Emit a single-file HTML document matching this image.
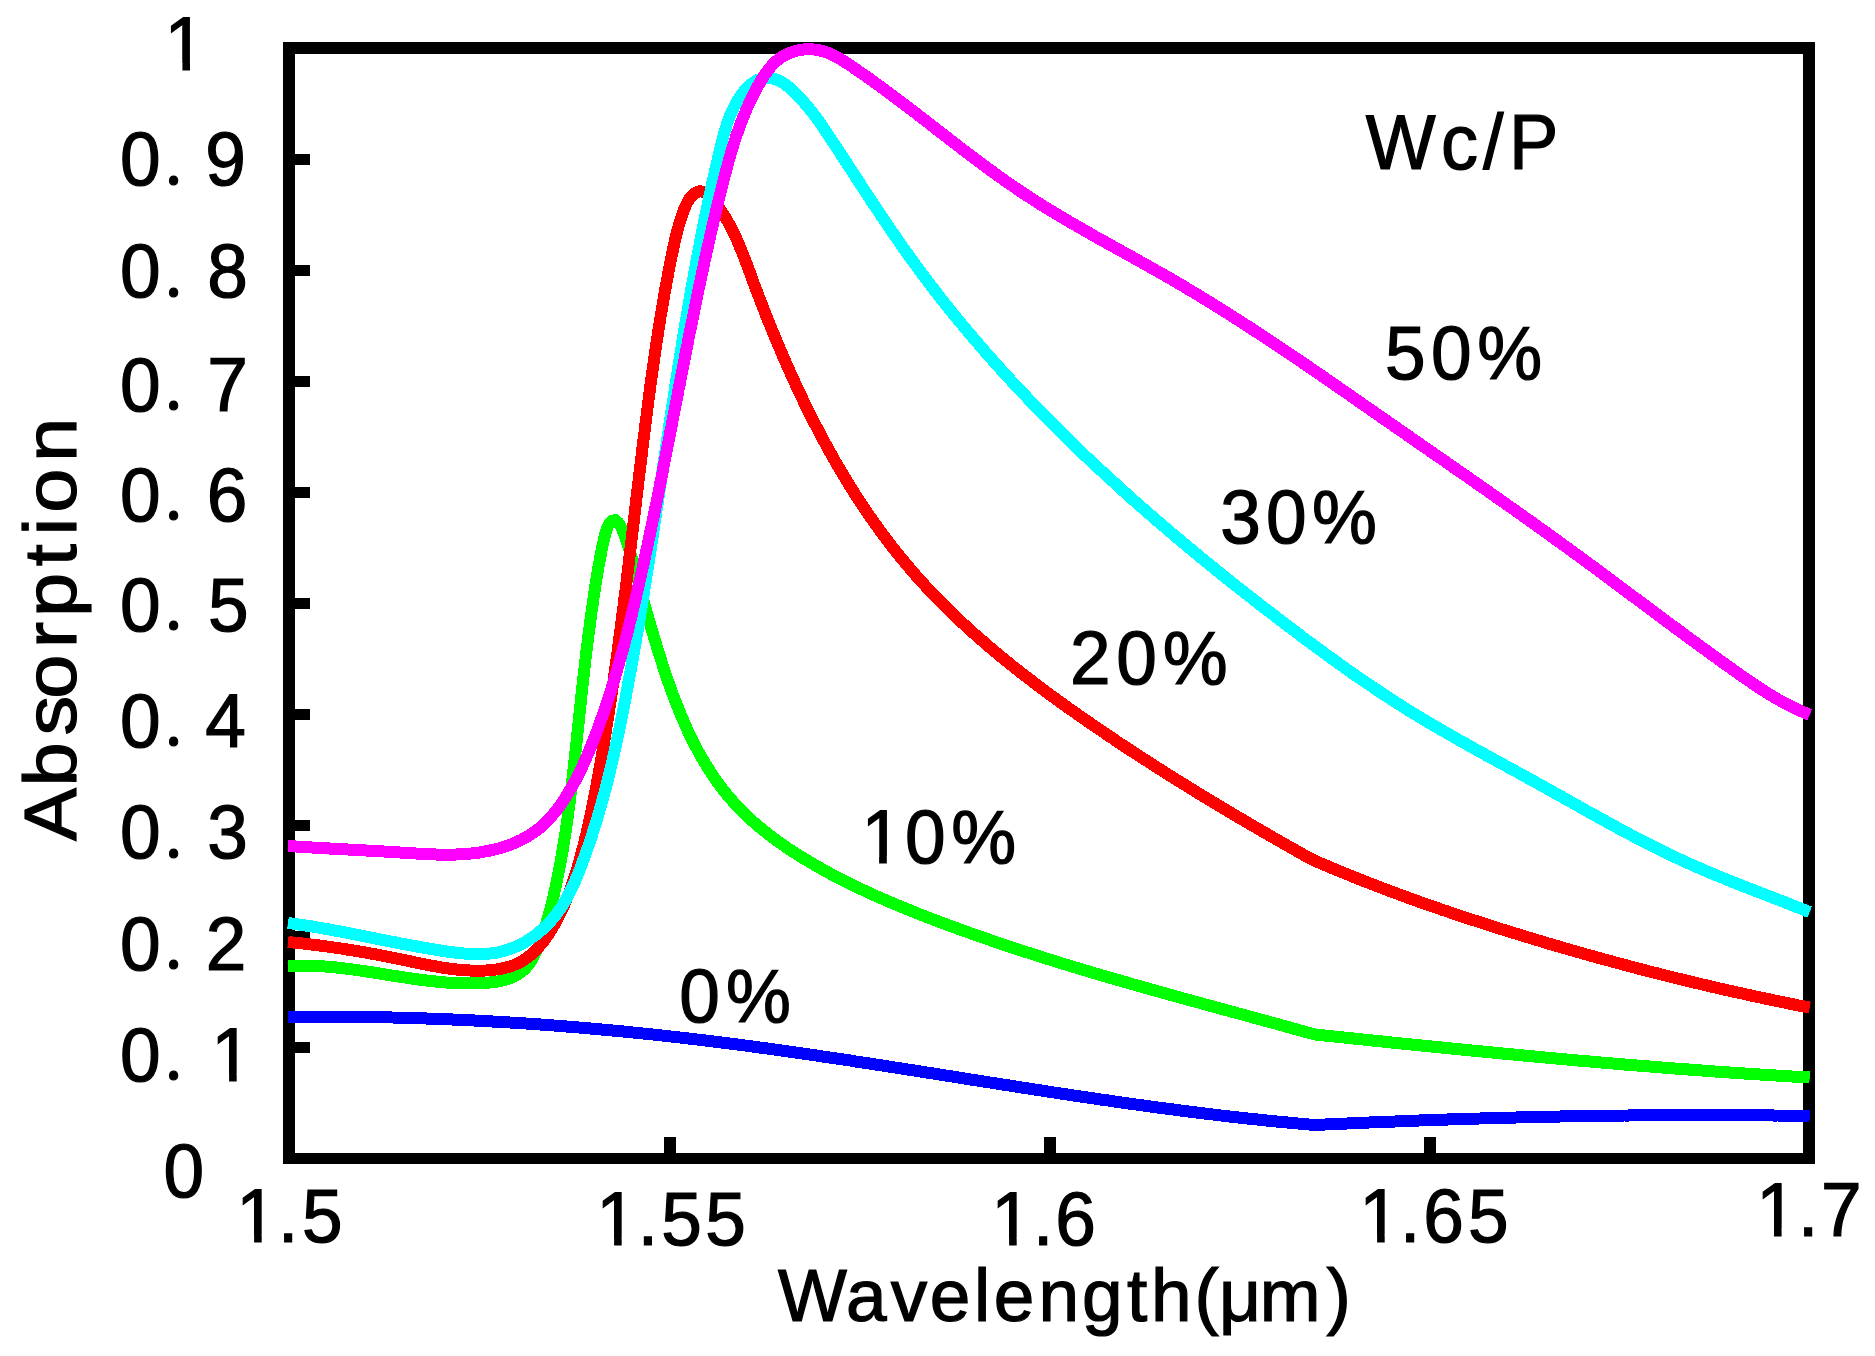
<!DOCTYPE html>
<html lang="en"><head><meta charset="utf-8"><title>Absorption vs Wavelength</title>
<style>
html,body{margin:0;padding:0;background:#fff}
body{width:1875px;height:1356px;overflow:hidden}
svg{display:block}
text{font-family:"Liberation Sans",sans-serif;fill:#000}
.c{fill:none;stroke-width:12;stroke-linecap:butt;stroke-linejoin:miter;stroke-miterlimit:4}
</style></head><body>
<svg width="1875" height="1356" viewBox="0 0 1875 1356">
<rect x="0" y="0" width="1875" height="1356" fill="#fff"/>
<g shape-rendering="crispEdges" fill="#000">
<path fill-rule="evenodd" d="M283 42H1815V1164H283ZM295 54V1153H1803V54Z"/>
<rect x="295" y="1042.0" width="15" height="11"/>
<rect x="295" y="931.0" width="15" height="11"/>
<rect x="295" y="820.0" width="15" height="11"/>
<rect x="295" y="709.0" width="15" height="11"/>
<rect x="295" y="598.0" width="15" height="11"/>
<rect x="295" y="487.0" width="15" height="11"/>
<rect x="295" y="376.0" width="15" height="11"/>
<rect x="295" y="265.0" width="15" height="11"/>
<rect x="295" y="154.0" width="15" height="11"/>
<rect x="664.0" y="1137" width="12" height="16"/>
<rect x="1044.0" y="1137" width="12" height="16"/>
<rect x="1424.0" y="1137" width="12" height="16"/>
</g>
<g class="c">
<path stroke="#0000ff" shape-rendering="crispEdges" d="M288.0 1017.0L292.0 1017.0 296.0 1016.9 300.0 1016.9 304.0 1016.8 308.1 1016.8 312.1 1016.8 316.1 1016.8 320.1 1016.8 324.1 1016.8 328.1 1016.8 332.1 1016.8 336.1 1016.8 340.1 1016.8 344.2 1016.8 348.2 1016.8 352.2 1016.9 356.2 1016.9 360.2 1017.0 364.2 1017.0 368.2 1017.1 372.2 1017.1 376.2 1017.2 380.2 1017.3 384.2 1017.3 388.3 1017.4 392.3 1017.5 396.3 1017.6 400.3 1017.7 404.3 1017.8 408.3 1017.9 412.3 1018.0 416.3 1018.2 420.3 1018.3 424.3 1018.4 428.3 1018.6 432.3 1018.7 436.3 1018.9 440.3 1019.0 444.3 1019.2 448.3 1019.3 452.3 1019.5 456.4 1019.7 460.4 1019.9 464.4 1020.0 468.4 1020.2 472.4 1020.4 476.4 1020.6 480.4 1020.8 484.4 1021.0 488.4 1021.3 492.4 1021.5 496.4 1021.7 500.4 1021.9 504.4 1022.2 508.4 1022.4 512.4 1022.7 516.4 1022.9 520.4 1023.2 524.4 1023.4 528.4 1023.7 532.4 1024.0 536.3 1024.3 540.3 1024.5 544.3 1024.8 548.3 1025.1 552.3 1025.4 556.3 1025.7 560.3 1026.0 564.3 1026.3 568.3 1026.7 572.3 1027.0 576.3 1027.3 580.3 1027.6 584.3 1028.0 588.3 1028.3 592.3 1028.7 596.2 1029.0 600.2 1029.4 604.2 1029.7 608.2 1030.1 612.2 1030.5 616.2 1030.8 620.2 1031.2 624.2 1031.6 628.2 1032.0 632.1 1032.4 636.1 1032.8 640.1 1033.2 644.1 1033.6 648.1 1034.0 652.1 1034.4 656.1 1034.9 660.0 1035.3 664.0 1035.7 668.0 1036.2 672.0 1036.6 676.0 1037.1 679.9 1037.5 683.9 1038.0 687.9 1038.4 691.9 1038.9 695.9 1039.4 699.8 1039.8 703.8 1040.3 707.8 1040.8 711.8 1041.3 715.7 1041.8 719.7 1042.3 723.7 1042.8 727.7 1043.3 731.6 1043.8 735.6 1044.3 739.6 1044.8 743.6 1045.3 747.5 1045.9 751.5 1046.4 755.5 1046.9 759.5 1047.5 763.4 1048.0 767.4 1048.5 771.4 1049.1 775.3 1049.6 779.3 1050.2 783.3 1050.8 787.2 1051.3 791.2 1051.9 795.2 1052.4 799.1 1053.0 803.1 1053.6 807.1 1054.2 811.0 1054.7 815.0 1055.3 819.0 1055.9 822.9 1056.5 826.9 1057.1 830.9 1057.7 834.8 1058.3 838.8 1058.9 842.8 1059.4 846.7 1060.0 850.7 1060.6 854.6 1061.3 858.6 1061.9 862.6 1062.5 866.5 1063.1 870.5 1063.7 874.5 1064.3 878.4 1064.9 882.4 1065.5 886.3 1066.1 890.3 1066.8 894.3 1067.4 898.2 1068.0 902.2 1068.6 906.1 1069.2 910.1 1069.9 914.1 1070.5 918.0 1071.1 922.0 1071.7 925.9 1072.4 929.9 1073.0 933.9 1073.6 937.8 1074.2 941.8 1074.9 945.7 1075.5 949.7 1076.1 953.7 1076.7 957.6 1077.4 961.6 1078.0 965.5 1078.6 969.5 1079.3 973.5 1079.9 977.4 1080.5 981.4 1081.1 985.3 1081.8 989.3 1082.4 993.3 1083.0 997.2 1083.6 1001.2 1084.3 1005.1 1084.9 1009.1 1085.5 1013.1 1086.1 1017.0 1086.7 1021.0 1087.4 1024.9 1088.0 1028.9 1088.6 1032.9 1089.2 1036.8 1089.8 1040.8 1090.4 1044.7 1091.0 1048.7 1091.7 1052.7 1092.3 1056.6 1092.9 1060.6 1093.5 1064.6 1094.1 1068.5 1094.7 1072.5 1095.3 1076.4 1095.9 1080.4 1096.5 1084.4 1097.0 1088.3 1097.6 1092.3 1098.2 1096.3 1098.8 1100.2 1099.4 1104.2 1100.0 1108.2 1100.5 1112.1 1101.1 1116.1 1101.7 1120.1 1102.3 1124.0 1102.8 1128.0 1103.4 1132.0 1103.9 1135.9 1104.5 1139.9 1105.0 1143.9 1105.6 1147.8 1106.1 1151.8 1106.7 1155.8 1107.2 1159.7 1107.8 1163.7 1108.3 1167.7 1108.8 1171.7 1109.3 1175.6 1109.9 1179.6 1110.4 1183.6 1110.9 1187.5 1111.4 1191.5 1111.9 1195.5 1112.4 1199.5 1112.9 1203.4 1113.4 1207.4 1113.9 1211.4 1114.3 1215.4 1114.8 1219.4 1115.3 1223.3 1115.8 1227.3 1116.2 1231.3 1116.7 1235.3 1117.1 1239.3 1117.6 1243.2 1118.0 1247.2 1118.5 1251.2 1118.9 1255.2 1119.3 1259.2 1119.7 1263.1 1120.1 1267.1 1120.6 1271.1 1121.0 1275.1 1121.4 1279.1 1121.7 1283.1 1122.1 1287.1 1122.5 1291.1 1122.9 1295.0 1123.3 1299.0 1123.6 1303.0 1124.0 1307.0 1124.3 1311.0 1124.7 1315.0 1125.0 1319.0 1124.8 1323.0 1124.6 1327.1 1124.4 1331.1 1124.2 1335.1 1124.0 1339.1 1123.9 1343.1 1123.7 1347.1 1123.5 1351.2 1123.3 1355.2 1123.1 1359.2 1123.0 1363.2 1122.8 1367.2 1122.6 1371.3 1122.4 1375.3 1122.3 1379.3 1122.1 1383.3 1121.9 1387.3 1121.8 1391.4 1121.6 1395.4 1121.5 1399.4 1121.3 1403.4 1121.1 1407.4 1121.0 1411.5 1120.8 1415.5 1120.7 1419.5 1120.5 1423.5 1120.4 1427.5 1120.2 1431.5 1120.1 1435.6 1119.9 1439.6 1119.8 1443.6 1119.7 1447.6 1119.5 1451.7 1119.4 1455.7 1119.3 1459.7 1119.1 1463.7 1119.0 1467.7 1118.9 1471.8 1118.7 1475.8 1118.6 1479.8 1118.5 1483.8 1118.4 1487.8 1118.3 1491.9 1118.2 1495.9 1118.0 1499.9 1117.9 1503.9 1117.8 1507.9 1117.7 1512.0 1117.6 1516.0 1117.5 1520.0 1117.4 1524.0 1117.3 1528.0 1117.2 1532.1 1117.1 1536.1 1117.0 1540.1 1116.9 1544.1 1116.8 1548.2 1116.7 1552.2 1116.7 1556.2 1116.6 1560.2 1116.5 1564.2 1116.4 1568.3 1116.3 1572.3 1116.3 1576.3 1116.2 1580.3 1116.1 1584.3 1116.1 1588.4 1116.0 1592.4 1115.9 1596.4 1115.9 1600.4 1115.8 1604.5 1115.8 1608.5 1115.7 1612.5 1115.7 1616.5 1115.6 1620.5 1115.6 1624.6 1115.5 1628.6 1115.5 1632.6 1115.4 1636.6 1115.4 1640.7 1115.4 1644.7 1115.3 1648.7 1115.3 1652.7 1115.3 1656.7 1115.2 1660.8 1115.2 1664.8 1115.2 1668.8 1115.2 1672.8 1115.1 1676.9 1115.1 1680.9 1115.1 1684.9 1115.1 1688.9 1115.1 1692.9 1115.1 1697.0 1115.1 1701.0 1115.1 1705.0 1115.1 1709.0 1115.1 1713.1 1115.1 1717.1 1115.1 1721.1 1115.1 1725.1 1115.1 1729.1 1115.1 1733.2 1115.2 1737.2 1115.2 1741.2 1115.2 1745.2 1115.2 1749.3 1115.3 1753.3 1115.3 1757.3 1115.3 1761.3 1115.4 1765.4 1115.4 1769.4 1115.4 1773.4 1115.5 1777.4 1115.5 1781.4 1115.6 1785.5 1115.6 1789.5 1115.7 1793.5 1115.7 1797.5 1115.8 1801.6 1115.9 1805.6 1115.9 1809.6 1116.0"/>
<path stroke="#0000ff" stroke-width="8" d="M288.0 1017.0L292.0 1017.0 296.0 1016.9 300.0 1016.9 304.0 1016.8 308.1 1016.8 312.1 1016.8 316.1 1016.8 320.1 1016.8 324.1 1016.8 328.1 1016.8 332.1 1016.8 336.1 1016.8 340.1 1016.8 344.2 1016.8 348.2 1016.8 352.2 1016.9 356.2 1016.9 360.2 1017.0 364.2 1017.0 368.2 1017.1 372.2 1017.1 376.2 1017.2 380.2 1017.3 384.2 1017.3 388.3 1017.4 392.3 1017.5 396.3 1017.6 400.3 1017.7 404.3 1017.8 408.3 1017.9 412.3 1018.0 416.3 1018.2 420.3 1018.3 424.3 1018.4 428.3 1018.6 432.3 1018.7 436.3 1018.9 440.3 1019.0 444.3 1019.2 448.3 1019.3 452.3 1019.5 456.4 1019.7 460.4 1019.9 464.4 1020.0 468.4 1020.2 472.4 1020.4 476.4 1020.6 480.4 1020.8 484.4 1021.0 488.4 1021.3 492.4 1021.5 496.4 1021.7 500.4 1021.9 504.4 1022.2 508.4 1022.4 512.4 1022.7 516.4 1022.9 520.4 1023.2 524.4 1023.4 528.4 1023.7 532.4 1024.0 536.3 1024.3 540.3 1024.5 544.3 1024.8 548.3 1025.1 552.3 1025.4 556.3 1025.7 560.3 1026.0 564.3 1026.3 568.3 1026.7 572.3 1027.0 576.3 1027.3 580.3 1027.6 584.3 1028.0 588.3 1028.3 592.3 1028.7 596.2 1029.0 600.2 1029.4 604.2 1029.7 608.2 1030.1 612.2 1030.5 616.2 1030.8 620.2 1031.2 624.2 1031.6 628.2 1032.0 632.1 1032.4 636.1 1032.8 640.1 1033.2 644.1 1033.6 648.1 1034.0 652.1 1034.4 656.1 1034.9 660.0 1035.3 664.0 1035.7 668.0 1036.2 672.0 1036.6 676.0 1037.1 679.9 1037.5 683.9 1038.0 687.9 1038.4 691.9 1038.9 695.9 1039.4 699.8 1039.8 703.8 1040.3 707.8 1040.8 711.8 1041.3 715.7 1041.8 719.7 1042.3 723.7 1042.8 727.7 1043.3 731.6 1043.8 735.6 1044.3 739.6 1044.8 743.6 1045.3 747.5 1045.9 751.5 1046.4 755.5 1046.9 759.5 1047.5 763.4 1048.0 767.4 1048.5 771.4 1049.1 775.3 1049.6 779.3 1050.2 783.3 1050.8 787.2 1051.3 791.2 1051.9 795.2 1052.4 799.1 1053.0 803.1 1053.6 807.1 1054.2 811.0 1054.7 815.0 1055.3 819.0 1055.9 822.9 1056.5 826.9 1057.1 830.9 1057.7 834.8 1058.3 838.8 1058.9 842.8 1059.4 846.7 1060.0 850.7 1060.6 854.6 1061.3 858.6 1061.9 862.6 1062.5 866.5 1063.1 870.5 1063.7 874.5 1064.3 878.4 1064.9 882.4 1065.5 886.3 1066.1 890.3 1066.8 894.3 1067.4 898.2 1068.0 902.2 1068.6 906.1 1069.2 910.1 1069.9 914.1 1070.5 918.0 1071.1 922.0 1071.7 925.9 1072.4 929.9 1073.0 933.9 1073.6 937.8 1074.2 941.8 1074.9 945.7 1075.5 949.7 1076.1 953.7 1076.7 957.6 1077.4 961.6 1078.0 965.5 1078.6 969.5 1079.3 973.5 1079.9 977.4 1080.5 981.4 1081.1 985.3 1081.8 989.3 1082.4 993.3 1083.0 997.2 1083.6 1001.2 1084.3 1005.1 1084.9 1009.1 1085.5 1013.1 1086.1 1017.0 1086.7 1021.0 1087.4 1024.9 1088.0 1028.9 1088.6 1032.9 1089.2 1036.8 1089.8 1040.8 1090.4 1044.7 1091.0 1048.7 1091.7 1052.7 1092.3 1056.6 1092.9 1060.6 1093.5 1064.6 1094.1 1068.5 1094.7 1072.5 1095.3 1076.4 1095.9 1080.4 1096.5 1084.4 1097.0 1088.3 1097.6 1092.3 1098.2 1096.3 1098.8 1100.2 1099.4 1104.2 1100.0 1108.2 1100.5 1112.1 1101.1 1116.1 1101.7 1120.1 1102.3 1124.0 1102.8 1128.0 1103.4 1132.0 1103.9 1135.9 1104.5 1139.9 1105.0 1143.9 1105.6 1147.8 1106.1 1151.8 1106.7 1155.8 1107.2 1159.7 1107.8 1163.7 1108.3 1167.7 1108.8 1171.7 1109.3 1175.6 1109.9 1179.6 1110.4 1183.6 1110.9 1187.5 1111.4 1191.5 1111.9 1195.5 1112.4 1199.5 1112.9 1203.4 1113.4 1207.4 1113.9 1211.4 1114.3 1215.4 1114.8 1219.4 1115.3 1223.3 1115.8 1227.3 1116.2 1231.3 1116.7 1235.3 1117.1 1239.3 1117.6 1243.2 1118.0 1247.2 1118.5 1251.2 1118.9 1255.2 1119.3 1259.2 1119.7 1263.1 1120.1 1267.1 1120.6 1271.1 1121.0 1275.1 1121.4 1279.1 1121.7 1283.1 1122.1 1287.1 1122.5 1291.1 1122.9 1295.0 1123.3 1299.0 1123.6 1303.0 1124.0 1307.0 1124.3 1311.0 1124.7 1315.0 1125.0 1319.0 1124.8 1323.0 1124.6 1327.1 1124.4 1331.1 1124.2 1335.1 1124.0 1339.1 1123.9 1343.1 1123.7 1347.1 1123.5 1351.2 1123.3 1355.2 1123.1 1359.2 1123.0 1363.2 1122.8 1367.2 1122.6 1371.3 1122.4 1375.3 1122.3 1379.3 1122.1 1383.3 1121.9 1387.3 1121.8 1391.4 1121.6 1395.4 1121.5 1399.4 1121.3 1403.4 1121.1 1407.4 1121.0 1411.5 1120.8 1415.5 1120.7 1419.5 1120.5 1423.5 1120.4 1427.5 1120.2 1431.5 1120.1 1435.6 1119.9 1439.6 1119.8 1443.6 1119.7 1447.6 1119.5 1451.7 1119.4 1455.7 1119.3 1459.7 1119.1 1463.7 1119.0 1467.7 1118.9 1471.8 1118.7 1475.8 1118.6 1479.8 1118.5 1483.8 1118.4 1487.8 1118.3 1491.9 1118.2 1495.9 1118.0 1499.9 1117.9 1503.9 1117.8 1507.9 1117.7 1512.0 1117.6 1516.0 1117.5 1520.0 1117.4 1524.0 1117.3 1528.0 1117.2 1532.1 1117.1 1536.1 1117.0 1540.1 1116.9 1544.1 1116.8 1548.2 1116.7 1552.2 1116.7 1556.2 1116.6 1560.2 1116.5 1564.2 1116.4 1568.3 1116.3 1572.3 1116.3 1576.3 1116.2 1580.3 1116.1 1584.3 1116.1 1588.4 1116.0 1592.4 1115.9 1596.4 1115.9 1600.4 1115.8 1604.5 1115.8 1608.5 1115.7 1612.5 1115.7 1616.5 1115.6 1620.5 1115.6 1624.6 1115.5 1628.6 1115.5 1632.6 1115.4 1636.6 1115.4 1640.7 1115.4 1644.7 1115.3 1648.7 1115.3 1652.7 1115.3 1656.7 1115.2 1660.8 1115.2 1664.8 1115.2 1668.8 1115.2 1672.8 1115.1 1676.9 1115.1 1680.9 1115.1 1684.9 1115.1 1688.9 1115.1 1692.9 1115.1 1697.0 1115.1 1701.0 1115.1 1705.0 1115.1 1709.0 1115.1 1713.1 1115.1 1717.1 1115.1 1721.1 1115.1 1725.1 1115.1 1729.1 1115.1 1733.2 1115.2 1737.2 1115.2 1741.2 1115.2 1745.2 1115.2 1749.3 1115.3 1753.3 1115.3 1757.3 1115.3 1761.3 1115.4 1765.4 1115.4 1769.4 1115.4 1773.4 1115.5 1777.4 1115.5 1781.4 1115.6 1785.5 1115.6 1789.5 1115.7 1793.5 1115.7 1797.5 1115.8 1801.6 1115.9 1805.6 1115.9 1809.6 1116.0"/>
<path stroke="#00ff00" shape-rendering="crispEdges" d="M288.0 966.0L292.0 965.8 296.1 965.7 300.1 965.6 304.1 965.6 308.1 965.7 312.1 965.8 316.1 966.0 320.1 966.2 324.1 966.4 328.1 966.8 332.1 967.1 336.1 967.5 340.1 967.9 344.1 968.4 348.0 968.9 352.0 969.4 356.0 969.9 360.0 970.5 363.9 971.1 367.9 971.7 371.9 972.3 375.8 972.9 379.8 973.6 383.8 974.2 387.7 974.8 391.7 975.5 395.7 976.1 399.6 976.7 403.6 977.3 407.6 977.9 411.5 978.5 415.5 979.1 419.5 979.6 423.5 980.1 427.5 980.6 431.5 981.1 435.4 981.5 439.4 981.9 443.4 982.3 447.4 982.6 451.4 982.8 455.5 983.1 459.5 983.2 463.5 983.3 467.5 983.4 471.6 983.4 475.6 983.3 479.7 983.2 483.7 983.0 487.8 982.7 491.8 982.3 495.7 981.8 499.6 981.1 503.5 980.2 507.2 979.2 510.8 977.9 514.2 976.4 517.5 974.6 520.6 972.6 523.5 970.2 526.2 967.5 528.6 964.5 530.9 961.3 533.0 957.8 534.9 954.1 536.7 950.2 538.3 946.3 539.9 942.3 541.3 938.3 542.7 934.4 544.0 930.4 545.3 926.5 546.5 922.7 547.6 918.8 548.7 915.0 549.8 911.2 550.8 907.4 551.7 903.6 552.7 899.8 553.6 895.9 554.4 892.1 555.3 888.3 556.1 884.5 556.9 880.6 557.7 876.8 558.5 872.9 559.3 869.0 560.0 865.1 560.7 861.2 561.4 857.3 562.1 853.4 562.8 849.4 563.4 845.5 564.1 841.5 564.7 837.6 565.3 833.6 565.9 829.6 566.5 825.6 567.0 821.7 567.6 817.7 568.1 813.7 568.7 809.7 569.2 805.7 569.7 801.7 570.2 797.6 570.7 793.6 571.2 789.6 571.7 785.6 572.1 781.6 572.6 777.6 573.0 773.6 573.5 769.5 573.9 765.5 574.4 761.5 574.8 757.5 575.3 753.5 575.7 749.5 576.1 745.5 576.6 741.5 577.0 737.5 577.4 733.5 577.8 729.5 578.3 725.5 578.7 721.6 579.1 717.6 579.5 713.6 579.9 709.6 580.4 705.7 580.8 701.7 581.2 697.7 581.6 693.8 582.1 689.8 582.5 685.8 582.9 681.9 583.4 677.9 583.8 674.0 584.3 670.0 584.7 666.0 585.2 662.1 585.6 658.1 586.1 654.2 586.6 650.2 587.1 646.3 587.6 642.3 588.0 638.3 588.5 634.4 589.1 630.4 589.6 626.5 590.1 622.5 590.6 618.5 591.2 614.6 591.7 610.6 592.3 606.6 592.9 602.7 593.4 598.7 594.0 594.7 594.6 590.8 595.2 586.8 595.9 582.8 596.5 578.8 597.2 574.9 597.8 570.9 598.5 566.9 599.2 562.9 599.9 558.9 600.7 555.0 601.4 551.0 602.2 547.1 603.1 543.2 604.0 539.3 604.9 535.4 605.9 531.6 607.1 527.8 609.0 524.0 611.9 520.9 615.2 520.1 618.0 522.4 620.3 525.6 622.1 529.1 623.6 532.8 625.0 536.7 626.3 540.5 627.6 544.3 628.8 548.2 630.0 552.1 631.2 556.0 632.3 559.9 633.4 563.8 634.5 567.7 635.6 571.6 636.6 575.4 637.6 579.3 638.7 583.2 639.7 587.0 640.8 590.9 641.8 594.7 642.9 598.5 644.0 602.4 645.0 606.2 646.1 610.0 647.2 613.8 648.3 617.6 649.3 621.4 650.4 625.2 651.6 628.9 652.7 632.7 653.8 636.5 655.0 640.4 656.1 644.2 657.3 648.0 658.5 651.8 659.7 655.6 660.9 659.5 662.1 663.3 663.3 667.1 664.6 671.0 665.9 674.8 667.2 678.6 668.5 682.5 669.9 686.3 671.2 690.1 672.6 693.9 674.1 697.7 675.5 701.5 677.0 705.2 678.5 709.0 680.0 712.8 681.6 716.5 683.2 720.2 684.8 723.9 686.4 727.6 688.1 731.3 689.8 734.9 691.6 738.5 693.4 742.1 695.2 745.7 697.1 749.2 699.0 752.8 701.0 756.3 702.9 759.7 705.0 763.2 707.1 766.6 709.2 769.9 711.3 773.3 713.6 776.6 715.8 779.8 718.1 783.1 720.5 786.3 722.9 789.4 725.3 792.5 727.8 795.6 730.4 798.6 733.0 801.6 735.7 804.5 738.4 807.4 741.2 810.3 744.0 813.1 746.8 815.9 749.8 818.6 752.7 821.3 755.7 823.9 758.8 826.5 761.8 829.0 765.0 831.6 768.1 834.0 771.3 836.5 774.5 838.9 777.8 841.3 781.1 843.6 784.4 845.9 787.7 848.2 791.1 850.4 794.5 852.6 797.9 854.8 801.3 856.9 804.7 859.1 808.2 861.1 811.7 863.2 815.2 865.2 818.7 867.2 822.2 869.2 825.7 871.1 829.2 873.1 832.8 875.0 836.3 876.8 839.9 878.7 843.5 880.5 847.1 882.3 850.6 884.1 854.2 885.8 857.9 887.6 861.5 889.3 865.1 891.0 868.7 892.7 872.4 894.3 876.0 896.0 879.7 897.6 883.4 899.2 887.0 900.8 890.7 902.4 894.4 903.9 898.1 905.5 901.8 907.0 905.5 908.5 909.2 910.0 912.9 911.5 916.6 913.0 920.3 914.5 924.1 915.9 927.8 917.4 931.5 918.8 935.3 920.2 939.0 921.7 942.8 923.1 946.5 924.5 950.3 925.9 954.0 927.3 957.8 928.6 961.5 930.0 965.3 931.4 969.1 932.7 972.8 934.0 976.6 935.4 980.4 936.7 984.2 938.0 987.9 939.3 991.7 940.6 995.5 941.9 999.3 943.2 1003.1 944.5 1006.9 945.8 1010.7 947.0 1014.5 948.3 1018.3 949.5 1022.1 950.8 1025.9 952.0 1029.7 953.2 1033.6 954.5 1037.4 955.7 1041.2 956.9 1045.0 958.1 1048.8 959.3 1052.7 960.5 1056.5 961.7 1060.3 962.9 1064.2 964.1 1068.0 965.2 1071.8 966.4 1075.7 967.6 1079.5 968.7 1083.3 969.9 1087.2 971.0 1091.0 972.2 1094.9 973.3 1098.7 974.4 1102.6 975.6 1106.4 976.7 1110.3 977.8 1114.1 978.9 1118.0 980.0 1121.8 981.1 1125.7 982.2 1129.5 983.4 1133.4 984.5 1137.3 985.5 1141.1 986.6 1145.0 987.7 1148.8 988.8 1152.7 989.9 1156.6 991.0 1160.4 992.1 1164.3 993.1 1168.2 994.2 1172.0 995.3 1175.9 996.4 1179.8 997.4 1183.6 998.5 1187.5 999.6 1191.4 1000.6 1195.2 1001.7 1199.1 1002.7 1203.0 1003.8 1206.8 1004.9 1210.7 1005.9 1214.6 1007.0 1218.4 1008.0 1222.3 1009.1 1226.2 1010.1 1230.1 1011.2 1233.9 1012.2 1237.8 1013.3 1241.7 1014.3 1245.5 1015.4 1249.4 1016.5 1253.3 1017.5 1257.1 1018.6 1261.0 1019.6 1264.8 1020.7 1268.7 1021.7 1272.6 1022.8 1276.4 1023.8 1280.3 1024.9 1284.2 1026.0 1288.0 1027.0 1291.9 1028.1 1295.7 1029.2 1299.6 1030.2 1303.4 1031.3 1307.3 1032.4 1311.1 1033.4 1315.0 1034.5 1319.0 1034.9 1323.0 1035.3 1326.9 1035.8 1330.9 1036.2 1334.9 1036.6 1338.9 1037.0 1342.9 1037.4 1346.9 1037.8 1350.8 1038.2 1354.8 1038.7 1358.8 1039.1 1362.8 1039.5 1366.8 1039.9 1370.7 1040.3 1374.7 1040.7 1378.7 1041.1 1382.7 1041.5 1386.7 1042.0 1390.7 1042.4 1394.6 1042.8 1398.6 1043.2 1402.6 1043.6 1406.6 1044.0 1410.6 1044.4 1414.6 1044.8 1418.5 1045.2 1422.5 1045.6 1426.5 1046.0 1430.5 1046.4 1434.5 1046.8 1438.5 1047.2 1442.5 1047.6 1446.4 1048.0 1450.4 1048.4 1454.4 1048.8 1458.4 1049.2 1462.4 1049.6 1466.4 1050.0 1470.3 1050.4 1474.3 1050.8 1478.3 1051.2 1482.3 1051.5 1486.3 1051.9 1490.3 1052.3 1494.3 1052.7 1498.2 1053.1 1502.2 1053.5 1506.2 1053.8 1510.2 1054.2 1514.2 1054.6 1518.2 1055.0 1522.2 1055.4 1526.2 1055.7 1530.1 1056.1 1534.1 1056.5 1538.1 1056.8 1542.1 1057.2 1546.1 1057.6 1550.1 1057.9 1554.1 1058.3 1558.1 1058.7 1562.0 1059.0 1566.0 1059.4 1570.0 1059.8 1574.0 1060.1 1578.0 1060.5 1582.0 1060.8 1586.0 1061.2 1590.0 1061.5 1594.0 1061.9 1597.9 1062.2 1601.9 1062.6 1605.9 1062.9 1609.9 1063.2 1613.9 1063.6 1617.9 1063.9 1621.9 1064.3 1625.9 1064.6 1629.9 1064.9 1633.9 1065.2 1637.8 1065.6 1641.8 1065.9 1645.8 1066.2 1649.8 1066.5 1653.8 1066.9 1657.8 1067.2 1661.8 1067.5 1665.8 1067.8 1669.8 1068.1 1673.8 1068.4 1677.8 1068.7 1681.8 1069.0 1685.7 1069.3 1689.7 1069.6 1693.7 1069.9 1697.7 1070.2 1701.7 1070.5 1705.7 1070.8 1709.7 1071.1 1713.7 1071.4 1717.7 1071.7 1721.7 1072.0 1725.7 1072.2 1729.7 1072.5 1733.7 1072.8 1737.7 1073.1 1741.7 1073.3 1745.7 1073.6 1749.6 1073.9 1753.6 1074.1 1757.6 1074.4 1761.6 1074.6 1765.6 1074.9 1769.6 1075.1 1773.6 1075.4 1777.6 1075.6 1781.6 1075.9 1785.6 1076.1 1789.6 1076.4 1793.6 1076.6 1797.6 1076.8 1801.6 1077.1 1805.6 1077.3 1809.6 1077.5"/>
<path stroke="#00ff00" stroke-width="8" d="M288.0 966.0L292.0 965.8 296.1 965.7 300.1 965.6 304.1 965.6 308.1 965.7 312.1 965.8 316.1 966.0 320.1 966.2 324.1 966.4 328.1 966.8 332.1 967.1 336.1 967.5 340.1 967.9 344.1 968.4 348.0 968.9 352.0 969.4 356.0 969.9 360.0 970.5 363.9 971.1 367.9 971.7 371.9 972.3 375.8 972.9 379.8 973.6 383.8 974.2 387.7 974.8 391.7 975.5 395.7 976.1 399.6 976.7 403.6 977.3 407.6 977.9 411.5 978.5 415.5 979.1 419.5 979.6 423.5 980.1 427.5 980.6 431.5 981.1 435.4 981.5 439.4 981.9 443.4 982.3 447.4 982.6 451.4 982.8 455.5 983.1 459.5 983.2 463.5 983.3 467.5 983.4 471.6 983.4 475.6 983.3 479.7 983.2 483.7 983.0 487.8 982.7 491.8 982.3 495.7 981.8 499.6 981.1 503.5 980.2 507.2 979.2 510.8 977.9 514.2 976.4 517.5 974.6 520.6 972.6 523.5 970.2 526.2 967.5 528.6 964.5 530.9 961.3 533.0 957.8 534.9 954.1 536.7 950.2 538.3 946.3 539.9 942.3 541.3 938.3 542.7 934.4 544.0 930.4 545.3 926.5 546.5 922.7 547.6 918.8 548.7 915.0 549.8 911.2 550.8 907.4 551.7 903.6 552.7 899.8 553.6 895.9 554.4 892.1 555.3 888.3 556.1 884.5 556.9 880.6 557.7 876.8 558.5 872.9 559.3 869.0 560.0 865.1 560.7 861.2 561.4 857.3 562.1 853.4 562.8 849.4 563.4 845.5 564.1 841.5 564.7 837.6 565.3 833.6 565.9 829.6 566.5 825.6 567.0 821.7 567.6 817.7 568.1 813.7 568.7 809.7 569.2 805.7 569.7 801.7 570.2 797.6 570.7 793.6 571.2 789.6 571.7 785.6 572.1 781.6 572.6 777.6 573.0 773.6 573.5 769.5 573.9 765.5 574.4 761.5 574.8 757.5 575.3 753.5 575.7 749.5 576.1 745.5 576.6 741.5 577.0 737.5 577.4 733.5 577.8 729.5 578.3 725.5 578.7 721.6 579.1 717.6 579.5 713.6 579.9 709.6 580.4 705.7 580.8 701.7 581.2 697.7 581.6 693.8 582.1 689.8 582.5 685.8 582.9 681.9 583.4 677.9 583.8 674.0 584.3 670.0 584.7 666.0 585.2 662.1 585.6 658.1 586.1 654.2 586.6 650.2 587.1 646.3 587.6 642.3 588.0 638.3 588.5 634.4 589.1 630.4 589.6 626.5 590.1 622.5 590.6 618.5 591.2 614.6 591.7 610.6 592.3 606.6 592.9 602.7 593.4 598.7 594.0 594.7 594.6 590.8 595.2 586.8 595.9 582.8 596.5 578.8 597.2 574.9 597.8 570.9 598.5 566.9 599.2 562.9 599.9 558.9 600.7 555.0 601.4 551.0 602.2 547.1 603.1 543.2 604.0 539.3 604.9 535.4 605.9 531.6 607.1 527.8 609.0 524.0 611.9 520.9 615.2 520.1 618.0 522.4 620.3 525.6 622.1 529.1 623.6 532.8 625.0 536.7 626.3 540.5 627.6 544.3 628.8 548.2 630.0 552.1 631.2 556.0 632.3 559.9 633.4 563.8 634.5 567.7 635.6 571.6 636.6 575.4 637.6 579.3 638.7 583.2 639.7 587.0 640.8 590.9 641.8 594.7 642.9 598.5 644.0 602.4 645.0 606.2 646.1 610.0 647.2 613.8 648.3 617.6 649.3 621.4 650.4 625.2 651.6 628.9 652.7 632.7 653.8 636.5 655.0 640.4 656.1 644.2 657.3 648.0 658.5 651.8 659.7 655.6 660.9 659.5 662.1 663.3 663.3 667.1 664.6 671.0 665.9 674.8 667.2 678.6 668.5 682.5 669.9 686.3 671.2 690.1 672.6 693.9 674.1 697.7 675.5 701.5 677.0 705.2 678.5 709.0 680.0 712.8 681.6 716.5 683.2 720.2 684.8 723.9 686.4 727.6 688.1 731.3 689.8 734.9 691.6 738.5 693.4 742.1 695.2 745.7 697.1 749.2 699.0 752.8 701.0 756.3 702.9 759.7 705.0 763.2 707.1 766.6 709.2 769.9 711.3 773.3 713.6 776.6 715.8 779.8 718.1 783.1 720.5 786.3 722.9 789.4 725.3 792.5 727.8 795.6 730.4 798.6 733.0 801.6 735.7 804.5 738.4 807.4 741.2 810.3 744.0 813.1 746.8 815.9 749.8 818.6 752.7 821.3 755.7 823.9 758.8 826.5 761.8 829.0 765.0 831.6 768.1 834.0 771.3 836.5 774.5 838.9 777.8 841.3 781.1 843.6 784.4 845.9 787.7 848.2 791.1 850.4 794.5 852.6 797.9 854.8 801.3 856.9 804.7 859.1 808.2 861.1 811.7 863.2 815.2 865.2 818.7 867.2 822.2 869.2 825.7 871.1 829.2 873.1 832.8 875.0 836.3 876.8 839.9 878.7 843.5 880.5 847.1 882.3 850.6 884.1 854.2 885.8 857.9 887.6 861.5 889.3 865.1 891.0 868.7 892.7 872.4 894.3 876.0 896.0 879.7 897.6 883.4 899.2 887.0 900.8 890.7 902.4 894.4 903.9 898.1 905.5 901.8 907.0 905.5 908.5 909.2 910.0 912.9 911.5 916.6 913.0 920.3 914.5 924.1 915.9 927.8 917.4 931.5 918.8 935.3 920.2 939.0 921.7 942.8 923.1 946.5 924.5 950.3 925.9 954.0 927.3 957.8 928.6 961.5 930.0 965.3 931.4 969.1 932.7 972.8 934.0 976.6 935.4 980.4 936.7 984.2 938.0 987.9 939.3 991.7 940.6 995.5 941.9 999.3 943.2 1003.1 944.5 1006.9 945.8 1010.7 947.0 1014.5 948.3 1018.3 949.5 1022.1 950.8 1025.9 952.0 1029.7 953.2 1033.6 954.5 1037.4 955.7 1041.2 956.9 1045.0 958.1 1048.8 959.3 1052.7 960.5 1056.5 961.7 1060.3 962.9 1064.2 964.1 1068.0 965.2 1071.8 966.4 1075.7 967.6 1079.5 968.7 1083.3 969.9 1087.2 971.0 1091.0 972.2 1094.9 973.3 1098.7 974.4 1102.6 975.6 1106.4 976.7 1110.3 977.8 1114.1 978.9 1118.0 980.0 1121.8 981.1 1125.7 982.2 1129.5 983.4 1133.4 984.5 1137.3 985.5 1141.1 986.6 1145.0 987.7 1148.8 988.8 1152.7 989.9 1156.6 991.0 1160.4 992.1 1164.3 993.1 1168.2 994.2 1172.0 995.3 1175.9 996.4 1179.8 997.4 1183.6 998.5 1187.5 999.6 1191.4 1000.6 1195.2 1001.7 1199.1 1002.7 1203.0 1003.8 1206.8 1004.9 1210.7 1005.9 1214.6 1007.0 1218.4 1008.0 1222.3 1009.1 1226.2 1010.1 1230.1 1011.2 1233.9 1012.2 1237.8 1013.3 1241.7 1014.3 1245.5 1015.4 1249.4 1016.5 1253.3 1017.5 1257.1 1018.6 1261.0 1019.6 1264.8 1020.7 1268.7 1021.7 1272.6 1022.8 1276.4 1023.8 1280.3 1024.9 1284.2 1026.0 1288.0 1027.0 1291.9 1028.1 1295.7 1029.2 1299.6 1030.2 1303.4 1031.3 1307.3 1032.4 1311.1 1033.4 1315.0 1034.5 1319.0 1034.9 1323.0 1035.3 1326.9 1035.8 1330.9 1036.2 1334.9 1036.6 1338.9 1037.0 1342.9 1037.4 1346.9 1037.8 1350.8 1038.2 1354.8 1038.7 1358.8 1039.1 1362.8 1039.5 1366.8 1039.9 1370.7 1040.3 1374.7 1040.7 1378.7 1041.1 1382.7 1041.5 1386.7 1042.0 1390.7 1042.4 1394.6 1042.8 1398.6 1043.2 1402.6 1043.6 1406.6 1044.0 1410.6 1044.4 1414.6 1044.8 1418.5 1045.2 1422.5 1045.6 1426.5 1046.0 1430.5 1046.4 1434.5 1046.8 1438.5 1047.2 1442.5 1047.6 1446.4 1048.0 1450.4 1048.4 1454.4 1048.8 1458.4 1049.2 1462.4 1049.6 1466.4 1050.0 1470.3 1050.4 1474.3 1050.8 1478.3 1051.2 1482.3 1051.5 1486.3 1051.9 1490.3 1052.3 1494.3 1052.7 1498.2 1053.1 1502.2 1053.5 1506.2 1053.8 1510.2 1054.2 1514.2 1054.6 1518.2 1055.0 1522.2 1055.4 1526.2 1055.7 1530.1 1056.1 1534.1 1056.5 1538.1 1056.8 1542.1 1057.2 1546.1 1057.6 1550.1 1057.9 1554.1 1058.3 1558.1 1058.7 1562.0 1059.0 1566.0 1059.4 1570.0 1059.8 1574.0 1060.1 1578.0 1060.5 1582.0 1060.8 1586.0 1061.2 1590.0 1061.5 1594.0 1061.9 1597.9 1062.2 1601.9 1062.6 1605.9 1062.9 1609.9 1063.2 1613.9 1063.6 1617.9 1063.9 1621.9 1064.3 1625.9 1064.6 1629.9 1064.9 1633.9 1065.2 1637.8 1065.6 1641.8 1065.9 1645.8 1066.2 1649.8 1066.5 1653.8 1066.9 1657.8 1067.2 1661.8 1067.5 1665.8 1067.8 1669.8 1068.1 1673.8 1068.4 1677.8 1068.7 1681.8 1069.0 1685.7 1069.3 1689.7 1069.6 1693.7 1069.9 1697.7 1070.2 1701.7 1070.5 1705.7 1070.8 1709.7 1071.1 1713.7 1071.4 1717.7 1071.7 1721.7 1072.0 1725.7 1072.2 1729.7 1072.5 1733.7 1072.8 1737.7 1073.1 1741.7 1073.3 1745.7 1073.6 1749.6 1073.9 1753.6 1074.1 1757.6 1074.4 1761.6 1074.6 1765.6 1074.9 1769.6 1075.1 1773.6 1075.4 1777.6 1075.6 1781.6 1075.9 1785.6 1076.1 1789.6 1076.4 1793.6 1076.6 1797.6 1076.8 1801.6 1077.1 1805.6 1077.3 1809.6 1077.5"/>
<path stroke="#ff0000" shape-rendering="crispEdges" d="M288.0 942.0L292.0 942.4 295.9 942.8 299.9 943.2 303.8 943.6 307.8 944.1 311.8 944.6 315.7 945.0 319.7 945.5 323.7 946.1 327.7 946.6 331.6 947.2 335.6 947.7 339.6 948.3 343.6 948.9 347.5 949.6 351.5 950.2 355.5 950.9 359.5 951.5 363.4 952.2 367.4 952.9 371.3 953.6 375.3 954.3 379.2 955.1 383.2 955.8 387.1 956.6 391.0 957.4 395.0 958.2 398.9 959.0 402.8 959.8 406.7 960.6 410.6 961.4 414.4 962.2 418.3 963.1 422.2 963.9 426.1 964.6 430.0 965.4 433.9 966.1 437.8 966.8 441.7 967.5 445.6 968.1 449.6 968.6 453.5 969.1 457.5 969.6 461.5 969.9 465.5 970.2 469.5 970.5 473.5 970.6 477.6 970.6 481.7 970.6 485.8 970.5 489.9 970.2 494.0 969.8 498.1 969.2 502.1 968.5 506.0 967.6 509.9 966.5 513.6 965.2 517.3 963.7 520.7 961.9 524.1 959.9 527.3 957.7 530.4 955.2 533.3 952.6 536.1 949.8 538.8 946.9 541.4 943.9 543.9 940.7 546.3 937.4 548.6 934.1 550.8 930.7 552.9 927.2 554.9 923.8 556.8 920.2 558.7 916.7 560.4 913.1 562.2 909.5 563.8 905.8 565.4 902.1 566.9 898.4 568.4 894.7 569.8 891.0 571.1 887.2 572.4 883.4 573.7 879.6 574.9 875.8 576.1 872.0 577.3 868.1 578.4 864.3 579.5 860.4 580.6 856.6 581.6 852.7 582.6 848.8 583.6 845.0 584.6 841.1 585.5 837.2 586.5 833.3 587.4 829.4 588.3 825.5 589.1 821.6 590.0 817.7 590.8 813.8 591.7 809.9 592.5 805.9 593.3 802.0 594.0 798.1 594.8 794.2 595.6 790.2 596.3 786.3 597.0 782.4 597.8 778.4 598.5 774.5 599.2 770.6 599.9 766.6 600.6 762.7 601.3 758.7 601.9 754.8 602.6 750.9 603.3 746.9 603.9 743.0 604.6 739.0 605.2 735.1 605.9 731.1 606.5 727.2 607.1 723.2 607.8 719.3 608.4 715.3 609.0 711.4 609.6 707.4 610.2 703.5 610.8 699.5 611.4 695.6 611.9 691.6 612.5 687.7 613.1 683.7 613.7 679.8 614.2 675.8 614.8 671.8 615.3 667.9 615.9 663.9 616.4 660.0 617.0 656.0 617.5 652.0 618.1 648.1 618.6 644.1 619.1 640.1 619.6 636.2 620.2 632.2 620.7 628.2 621.2 624.3 621.7 620.3 622.2 616.3 622.7 612.4 623.2 608.4 623.7 604.4 624.2 600.5 624.7 596.5 625.2 592.5 625.7 588.6 626.2 584.6 626.7 580.6 627.1 576.7 627.6 572.7 628.1 568.7 628.6 564.7 629.1 560.8 629.5 556.8 630.0 552.8 630.5 548.8 631.0 544.9 631.4 540.9 631.9 536.9 632.4 532.9 632.8 529.0 633.3 525.0 633.8 521.0 634.3 517.0 634.7 513.1 635.2 509.1 635.7 505.1 636.1 501.1 636.6 497.1 637.1 493.2 637.5 489.2 638.0 485.2 638.5 481.2 639.0 477.3 639.4 473.3 639.9 469.3 640.4 465.3 640.9 461.3 641.4 457.4 641.8 453.4 642.3 449.4 642.8 445.4 643.3 441.4 643.8 437.5 644.3 433.5 644.8 429.5 645.3 425.5 645.8 421.6 646.3 417.6 646.8 413.6 647.3 409.6 647.8 405.6 648.3 401.7 648.8 397.7 649.4 393.7 649.9 389.7 650.4 385.8 650.9 381.8 651.5 377.8 652.0 373.8 652.6 369.9 653.1 365.9 653.7 361.9 654.3 358.0 654.8 354.0 655.4 350.0 656.0 346.1 656.6 342.1 657.2 338.2 657.8 334.2 658.4 330.3 659.0 326.3 659.7 322.4 660.3 318.4 660.9 314.5 661.6 310.6 662.3 306.6 662.9 302.7 663.6 298.8 664.3 294.8 665.0 290.9 665.7 287.0 666.4 283.1 667.1 279.2 667.9 275.3 668.6 271.4 669.4 267.5 670.2 263.6 670.9 259.7 671.7 255.8 672.5 252.0 673.3 248.1 674.2 244.2 675.0 240.3 675.9 236.5 676.9 232.6 677.9 228.7 679.0 224.8 680.2 220.8 681.5 216.9 682.9 212.9 684.4 208.8 686.1 204.8 688.0 201.0 690.3 197.5 693.0 194.6 696.2 192.5 699.6 191.4 703.0 191.6 706.1 193.2 709.1 195.7 711.8 198.7 714.4 201.9 716.9 205.1 719.3 208.3 721.6 211.7 723.8 215.0 725.9 218.4 727.9 221.8 729.8 225.3 731.7 228.8 733.4 232.4 735.2 236.0 736.8 239.6 738.4 243.2 739.9 246.9 741.4 250.5 742.9 254.2 744.4 258.0 745.8 261.7 747.2 265.4 748.6 269.2 750.0 272.9 751.3 276.7 752.7 280.4 754.1 284.2 755.5 287.9 757.0 291.6 758.4 295.4 759.8 299.1 761.3 302.9 762.7 306.6 764.2 310.4 765.6 314.1 767.1 317.8 768.6 321.6 770.1 325.3 771.6 329.0 773.2 332.7 774.7 336.5 776.2 340.2 777.8 343.9 779.4 347.6 780.9 351.3 782.5 355.0 784.1 358.7 785.7 362.4 787.4 366.1 789.0 369.7 790.6 373.4 792.3 377.1 794.0 380.7 795.6 384.4 797.3 388.0 799.0 391.7 800.8 395.3 802.5 398.9 804.2 402.6 806.0 406.2 807.8 409.8 809.6 413.4 811.4 417.0 813.2 420.6 815.0 424.1 816.9 427.7 818.7 431.3 820.6 434.8 822.5 438.3 824.4 441.9 826.3 445.4 828.2 448.9 830.2 452.4 832.1 455.9 834.1 459.4 836.1 462.9 838.1 466.3 840.1 469.8 842.2 473.2 844.2 476.6 846.3 480.1 848.4 483.5 850.5 486.9 852.6 490.2 854.7 493.6 856.9 497.0 859.1 500.3 861.3 503.6 863.5 507.0 865.7 510.3 867.9 513.6 870.2 516.8 872.5 520.1 874.8 523.4 877.1 526.6 879.4 529.8 881.8 533.0 884.1 536.2 886.5 539.4 888.9 542.6 891.4 545.7 893.8 548.9 896.3 552.0 898.8 555.1 901.3 558.2 903.8 561.2 906.3 564.3 908.9 567.3 911.5 570.4 914.1 573.4 916.7 576.4 919.4 579.3 922.0 582.3 924.7 585.2 927.4 588.1 930.2 591.0 932.9 593.9 935.7 596.8 938.5 599.7 941.3 602.5 944.1 605.3 946.9 608.1 949.8 610.9 952.6 613.7 955.5 616.5 958.4 619.2 961.3 622.0 964.3 624.7 967.2 627.4 970.2 630.1 973.1 632.8 976.1 635.4 979.1 638.1 982.2 640.7 985.2 643.3 988.2 646.0 991.3 648.6 994.4 651.1 997.4 653.7 1000.5 656.3 1003.6 658.8 1006.8 661.4 1009.9 663.9 1013.0 666.4 1016.2 668.9 1019.3 671.4 1022.5 673.9 1025.7 676.3 1028.9 678.8 1032.1 681.2 1035.3 683.7 1038.5 686.1 1041.7 688.5 1044.9 690.9 1048.2 693.3 1051.4 695.7 1054.7 698.1 1057.9 700.4 1061.2 702.8 1064.5 705.1 1067.7 707.5 1071.0 709.8 1074.3 712.1 1077.6 714.4 1080.9 716.7 1084.2 719.0 1087.5 721.3 1090.8 723.6 1094.1 725.9 1097.4 728.1 1100.7 730.4 1104.0 732.6 1107.3 734.9 1110.7 737.1 1114.0 739.3 1117.3 741.6 1120.6 743.8 1124.0 746.0 1127.3 748.2 1130.6 750.4 1134.0 752.6 1137.3 754.7 1140.7 756.9 1144.0 759.1 1147.4 761.2 1150.7 763.4 1154.1 765.5 1157.4 767.7 1160.8 769.8 1164.1 772.0 1167.5 774.1 1170.9 776.2 1174.2 778.3 1177.6 780.4 1181.0 782.5 1184.4 784.6 1187.8 786.7 1191.1 788.8 1194.5 790.9 1197.9 793.0 1201.3 795.1 1204.7 797.1 1208.1 799.2 1211.5 801.2 1215.0 803.3 1218.4 805.4 1221.8 807.4 1225.2 809.5 1228.6 811.5 1232.1 813.5 1235.5 815.6 1238.9 817.6 1242.4 819.6 1245.8 821.6 1249.3 823.7 1252.7 825.7 1256.2 827.7 1259.6 829.7 1263.1 831.7 1266.6 833.7 1270.0 835.7 1273.5 837.7 1277.0 839.7 1280.5 841.7 1283.9 843.7 1287.4 845.7 1290.9 847.6 1294.4 849.6 1297.9 851.6 1301.4 853.6 1305.0 855.6 1308.5 857.5 1312.0 859.5 1315.7 861.1 1319.3 862.7 1323.0 864.3 1326.7 865.8 1330.4 867.4 1334.1 868.9 1337.8 870.5 1341.5 872.0 1345.2 873.5 1348.9 875.0 1352.6 876.5 1356.3 878.0 1360.0 879.5 1363.7 881.0 1367.5 882.4 1371.2 883.9 1374.9 885.3 1378.7 886.7 1382.4 888.2 1386.1 889.6 1389.9 891.0 1393.6 892.4 1397.4 893.8 1401.1 895.2 1404.9 896.5 1408.6 897.9 1412.4 899.3 1416.2 900.6 1419.9 902.0 1423.7 903.3 1427.5 904.6 1431.2 905.9 1435.0 907.3 1438.8 908.6 1442.6 909.9 1446.4 911.1 1450.2 912.4 1453.9 913.7 1457.7 915.0 1461.5 916.2 1465.3 917.5 1469.1 918.8 1472.9 920.0 1476.7 921.2 1480.5 922.5 1484.3 923.7 1488.2 924.9 1492.0 926.2 1495.8 927.4 1499.6 928.6 1503.4 929.8 1507.2 931.0 1511.1 932.2 1514.9 933.3 1518.7 934.5 1522.5 935.7 1526.3 936.9 1530.2 938.0 1534.0 939.2 1537.8 940.3 1541.7 941.5 1545.5 942.6 1549.3 943.8 1553.2 944.9 1557.0 946.0 1560.9 947.2 1564.7 948.3 1568.6 949.4 1572.4 950.5 1576.3 951.6 1580.1 952.7 1584.0 953.8 1587.8 954.9 1591.7 955.9 1595.5 957.0 1599.4 958.1 1603.2 959.1 1607.1 960.2 1611.0 961.2 1614.8 962.3 1618.7 963.3 1622.6 964.4 1626.4 965.4 1630.3 966.4 1634.2 967.4 1638.0 968.5 1641.9 969.5 1645.8 970.5 1649.7 971.5 1653.5 972.5 1657.4 973.4 1661.3 974.4 1665.2 975.4 1669.1 976.4 1672.9 977.3 1676.8 978.3 1680.7 979.2 1684.6 980.2 1688.5 981.1 1692.4 982.1 1696.3 983.0 1700.2 983.9 1704.1 984.8 1708.0 985.8 1711.9 986.7 1715.8 987.6 1719.7 988.5 1723.6 989.4 1727.5 990.3 1731.4 991.1 1735.3 992.0 1739.2 992.9 1743.1 993.7 1747.0 994.6 1750.9 995.5 1754.8 996.3 1758.7 997.2 1762.6 998.0 1766.5 998.8 1770.4 999.6 1774.3 1000.5 1778.3 1001.3 1782.2 1002.1 1786.1 1002.9 1790.0 1003.7 1793.9 1004.5 1797.8 1005.3 1801.8 1006.1 1805.7 1006.8 1809.6 1007.6"/>
<path stroke="#ff0000" stroke-width="8" d="M288.0 942.0L292.0 942.4 295.9 942.8 299.9 943.2 303.8 943.6 307.8 944.1 311.8 944.6 315.7 945.0 319.7 945.5 323.7 946.1 327.7 946.6 331.6 947.2 335.6 947.7 339.6 948.3 343.6 948.9 347.5 949.6 351.5 950.2 355.5 950.9 359.5 951.5 363.4 952.2 367.4 952.9 371.3 953.6 375.3 954.3 379.2 955.1 383.2 955.8 387.1 956.6 391.0 957.4 395.0 958.2 398.9 959.0 402.8 959.8 406.7 960.6 410.6 961.4 414.4 962.2 418.3 963.1 422.2 963.9 426.1 964.6 430.0 965.4 433.9 966.1 437.8 966.8 441.7 967.5 445.6 968.1 449.6 968.6 453.5 969.1 457.5 969.6 461.5 969.9 465.5 970.2 469.5 970.5 473.5 970.6 477.6 970.6 481.7 970.6 485.8 970.5 489.9 970.2 494.0 969.8 498.1 969.2 502.1 968.5 506.0 967.6 509.9 966.5 513.6 965.2 517.3 963.7 520.7 961.9 524.1 959.9 527.3 957.7 530.4 955.2 533.3 952.6 536.1 949.8 538.8 946.9 541.4 943.9 543.9 940.7 546.3 937.4 548.6 934.1 550.8 930.7 552.9 927.2 554.9 923.8 556.8 920.2 558.7 916.7 560.4 913.1 562.2 909.5 563.8 905.8 565.4 902.1 566.9 898.4 568.4 894.7 569.8 891.0 571.1 887.2 572.4 883.4 573.7 879.6 574.9 875.8 576.1 872.0 577.3 868.1 578.4 864.3 579.5 860.4 580.6 856.6 581.6 852.7 582.6 848.8 583.6 845.0 584.6 841.1 585.5 837.2 586.5 833.3 587.4 829.4 588.3 825.5 589.1 821.6 590.0 817.7 590.8 813.8 591.7 809.9 592.5 805.9 593.3 802.0 594.0 798.1 594.8 794.2 595.6 790.2 596.3 786.3 597.0 782.4 597.8 778.4 598.5 774.5 599.2 770.6 599.9 766.6 600.6 762.7 601.3 758.7 601.9 754.8 602.6 750.9 603.3 746.9 603.9 743.0 604.6 739.0 605.2 735.1 605.9 731.1 606.5 727.2 607.1 723.2 607.8 719.3 608.4 715.3 609.0 711.4 609.6 707.4 610.2 703.5 610.8 699.5 611.4 695.6 611.9 691.6 612.5 687.7 613.1 683.7 613.7 679.8 614.2 675.8 614.8 671.8 615.3 667.9 615.9 663.9 616.4 660.0 617.0 656.0 617.5 652.0 618.1 648.1 618.6 644.1 619.1 640.1 619.6 636.2 620.2 632.2 620.7 628.2 621.2 624.3 621.7 620.3 622.2 616.3 622.7 612.4 623.2 608.4 623.7 604.4 624.2 600.5 624.7 596.5 625.2 592.5 625.7 588.6 626.2 584.6 626.7 580.6 627.1 576.7 627.6 572.7 628.1 568.7 628.6 564.7 629.1 560.8 629.5 556.8 630.0 552.8 630.5 548.8 631.0 544.9 631.4 540.9 631.9 536.9 632.4 532.9 632.8 529.0 633.3 525.0 633.8 521.0 634.3 517.0 634.7 513.1 635.2 509.1 635.7 505.1 636.1 501.1 636.6 497.1 637.1 493.2 637.5 489.2 638.0 485.2 638.5 481.2 639.0 477.3 639.4 473.3 639.9 469.3 640.4 465.3 640.9 461.3 641.4 457.4 641.8 453.4 642.3 449.4 642.8 445.4 643.3 441.4 643.8 437.5 644.3 433.5 644.8 429.5 645.3 425.5 645.8 421.6 646.3 417.6 646.8 413.6 647.3 409.6 647.8 405.6 648.3 401.7 648.8 397.7 649.4 393.7 649.9 389.7 650.4 385.8 650.9 381.8 651.5 377.8 652.0 373.8 652.6 369.9 653.1 365.9 653.7 361.9 654.3 358.0 654.8 354.0 655.4 350.0 656.0 346.1 656.6 342.1 657.2 338.2 657.8 334.2 658.4 330.3 659.0 326.3 659.7 322.4 660.3 318.4 660.9 314.5 661.6 310.6 662.3 306.6 662.9 302.7 663.6 298.8 664.3 294.8 665.0 290.9 665.7 287.0 666.4 283.1 667.1 279.2 667.9 275.3 668.6 271.4 669.4 267.5 670.2 263.6 670.9 259.7 671.7 255.8 672.5 252.0 673.3 248.1 674.2 244.2 675.0 240.3 675.9 236.5 676.9 232.6 677.9 228.7 679.0 224.8 680.2 220.8 681.5 216.9 682.9 212.9 684.4 208.8 686.1 204.8 688.0 201.0 690.3 197.5 693.0 194.6 696.2 192.5 699.6 191.4 703.0 191.6 706.1 193.2 709.1 195.7 711.8 198.7 714.4 201.9 716.9 205.1 719.3 208.3 721.6 211.7 723.8 215.0 725.9 218.4 727.9 221.8 729.8 225.3 731.7 228.8 733.4 232.4 735.2 236.0 736.8 239.6 738.4 243.2 739.9 246.9 741.4 250.5 742.9 254.2 744.4 258.0 745.8 261.7 747.2 265.4 748.6 269.2 750.0 272.9 751.3 276.7 752.7 280.4 754.1 284.2 755.5 287.9 757.0 291.6 758.4 295.4 759.8 299.1 761.3 302.9 762.7 306.6 764.2 310.4 765.6 314.1 767.1 317.8 768.6 321.6 770.1 325.3 771.6 329.0 773.2 332.7 774.7 336.5 776.2 340.2 777.8 343.9 779.4 347.6 780.9 351.3 782.5 355.0 784.1 358.7 785.7 362.4 787.4 366.1 789.0 369.7 790.6 373.4 792.3 377.1 794.0 380.7 795.6 384.4 797.3 388.0 799.0 391.7 800.8 395.3 802.5 398.9 804.2 402.6 806.0 406.2 807.8 409.8 809.6 413.4 811.4 417.0 813.2 420.6 815.0 424.1 816.9 427.7 818.7 431.3 820.6 434.8 822.5 438.3 824.4 441.9 826.3 445.4 828.2 448.9 830.2 452.4 832.1 455.9 834.1 459.4 836.1 462.9 838.1 466.3 840.1 469.8 842.2 473.2 844.2 476.6 846.3 480.1 848.4 483.5 850.5 486.9 852.6 490.2 854.7 493.6 856.9 497.0 859.1 500.3 861.3 503.6 863.5 507.0 865.7 510.3 867.9 513.6 870.2 516.8 872.5 520.1 874.8 523.4 877.1 526.6 879.4 529.8 881.8 533.0 884.1 536.2 886.5 539.4 888.9 542.6 891.4 545.7 893.8 548.9 896.3 552.0 898.8 555.1 901.3 558.2 903.8 561.2 906.3 564.3 908.9 567.3 911.5 570.4 914.1 573.4 916.7 576.4 919.4 579.3 922.0 582.3 924.7 585.2 927.4 588.1 930.2 591.0 932.9 593.9 935.7 596.8 938.5 599.7 941.3 602.5 944.1 605.3 946.9 608.1 949.8 610.9 952.6 613.7 955.5 616.5 958.4 619.2 961.3 622.0 964.3 624.7 967.2 627.4 970.2 630.1 973.1 632.8 976.1 635.4 979.1 638.1 982.2 640.7 985.2 643.3 988.2 646.0 991.3 648.6 994.4 651.1 997.4 653.7 1000.5 656.3 1003.6 658.8 1006.8 661.4 1009.9 663.9 1013.0 666.4 1016.2 668.9 1019.3 671.4 1022.5 673.9 1025.7 676.3 1028.9 678.8 1032.1 681.2 1035.3 683.7 1038.5 686.1 1041.7 688.5 1044.9 690.9 1048.2 693.3 1051.4 695.7 1054.7 698.1 1057.9 700.4 1061.2 702.8 1064.5 705.1 1067.7 707.5 1071.0 709.8 1074.3 712.1 1077.6 714.4 1080.9 716.7 1084.2 719.0 1087.5 721.3 1090.8 723.6 1094.1 725.9 1097.4 728.1 1100.7 730.4 1104.0 732.6 1107.3 734.9 1110.7 737.1 1114.0 739.3 1117.3 741.6 1120.6 743.8 1124.0 746.0 1127.3 748.2 1130.6 750.4 1134.0 752.6 1137.3 754.7 1140.7 756.9 1144.0 759.1 1147.4 761.2 1150.7 763.4 1154.1 765.5 1157.4 767.7 1160.8 769.8 1164.1 772.0 1167.5 774.1 1170.9 776.2 1174.2 778.3 1177.6 780.4 1181.0 782.5 1184.4 784.6 1187.8 786.7 1191.1 788.8 1194.5 790.9 1197.9 793.0 1201.3 795.1 1204.7 797.1 1208.1 799.2 1211.5 801.2 1215.0 803.3 1218.4 805.4 1221.8 807.4 1225.2 809.5 1228.6 811.5 1232.1 813.5 1235.5 815.6 1238.9 817.6 1242.4 819.6 1245.8 821.6 1249.3 823.7 1252.7 825.7 1256.2 827.7 1259.6 829.7 1263.1 831.7 1266.6 833.7 1270.0 835.7 1273.5 837.7 1277.0 839.7 1280.5 841.7 1283.9 843.7 1287.4 845.7 1290.9 847.6 1294.4 849.6 1297.9 851.6 1301.4 853.6 1305.0 855.6 1308.5 857.5 1312.0 859.5 1315.7 861.1 1319.3 862.7 1323.0 864.3 1326.7 865.8 1330.4 867.4 1334.1 868.9 1337.8 870.5 1341.5 872.0 1345.2 873.5 1348.9 875.0 1352.6 876.5 1356.3 878.0 1360.0 879.5 1363.7 881.0 1367.5 882.4 1371.2 883.9 1374.9 885.3 1378.7 886.7 1382.4 888.2 1386.1 889.6 1389.9 891.0 1393.6 892.4 1397.4 893.8 1401.1 895.2 1404.9 896.5 1408.6 897.9 1412.4 899.3 1416.2 900.6 1419.9 902.0 1423.7 903.3 1427.5 904.6 1431.2 905.9 1435.0 907.3 1438.8 908.6 1442.6 909.9 1446.4 911.1 1450.2 912.4 1453.9 913.7 1457.7 915.0 1461.5 916.2 1465.3 917.5 1469.1 918.8 1472.9 920.0 1476.7 921.2 1480.5 922.5 1484.3 923.7 1488.2 924.9 1492.0 926.2 1495.8 927.4 1499.6 928.6 1503.4 929.8 1507.2 931.0 1511.1 932.2 1514.9 933.3 1518.7 934.5 1522.5 935.7 1526.3 936.9 1530.2 938.0 1534.0 939.2 1537.8 940.3 1541.7 941.5 1545.5 942.6 1549.3 943.8 1553.2 944.9 1557.0 946.0 1560.9 947.2 1564.7 948.3 1568.6 949.4 1572.4 950.5 1576.3 951.6 1580.1 952.7 1584.0 953.8 1587.8 954.9 1591.7 955.9 1595.5 957.0 1599.4 958.1 1603.2 959.1 1607.1 960.2 1611.0 961.2 1614.8 962.3 1618.7 963.3 1622.6 964.4 1626.4 965.4 1630.3 966.4 1634.2 967.4 1638.0 968.5 1641.9 969.5 1645.8 970.5 1649.7 971.5 1653.5 972.5 1657.4 973.4 1661.3 974.4 1665.2 975.4 1669.1 976.4 1672.9 977.3 1676.8 978.3 1680.7 979.2 1684.6 980.2 1688.5 981.1 1692.4 982.1 1696.3 983.0 1700.2 983.9 1704.1 984.8 1708.0 985.8 1711.9 986.7 1715.8 987.6 1719.7 988.5 1723.6 989.4 1727.5 990.3 1731.4 991.1 1735.3 992.0 1739.2 992.9 1743.1 993.7 1747.0 994.6 1750.9 995.5 1754.8 996.3 1758.7 997.2 1762.6 998.0 1766.5 998.8 1770.4 999.6 1774.3 1000.5 1778.3 1001.3 1782.2 1002.1 1786.1 1002.9 1790.0 1003.7 1793.9 1004.5 1797.8 1005.3 1801.8 1006.1 1805.7 1006.8 1809.6 1007.6"/>
<path stroke="#00ffff" shape-rendering="crispEdges" d="M288.0 923.0L292.0 923.5 296.1 924.1 300.1 924.7 304.1 925.3 308.1 925.9 312.1 926.5 316.0 927.2 320.0 927.8 323.9 928.5 327.8 929.2 331.8 929.9 335.7 930.7 339.6 931.4 343.5 932.1 347.4 932.9 351.2 933.6 355.1 934.4 359.0 935.2 362.9 935.9 366.8 936.7 370.7 937.5 374.5 938.3 378.4 939.1 382.3 939.8 386.2 940.6 390.1 941.4 394.0 942.1 397.9 942.9 401.8 943.7 405.7 944.4 409.6 945.2 413.6 945.9 417.5 946.6 421.5 947.3 425.5 948.0 429.5 948.7 433.5 949.4 437.5 950.0 441.5 950.7 445.6 951.3 449.6 951.9 453.7 952.4 457.8 952.9 461.8 953.3 465.9 953.7 469.9 953.9 474.0 954.1 478.0 954.1 482.0 954.1 486.0 953.9 490.0 953.5 493.9 953.0 497.8 952.4 501.6 951.5 505.4 950.5 509.1 949.3 512.8 948.0 516.5 946.4 520.0 944.7 523.5 942.9 527.0 940.9 530.3 938.8 533.6 936.5 536.8 934.1 539.9 931.5 542.9 928.9 545.8 926.1 548.6 923.3 551.3 920.3 553.9 917.3 556.4 914.1 558.7 910.9 561.0 907.7 563.1 904.3 565.2 900.9 567.1 897.4 569.0 893.9 570.8 890.3 572.5 886.7 574.2 883.1 575.8 879.4 577.3 875.7 578.8 872.0 580.3 868.2 581.7 864.5 583.1 860.7 584.5 856.9 585.9 853.1 587.2 849.4 588.5 845.6 589.8 841.8 591.1 838.0 592.3 834.2 593.5 830.4 594.7 826.5 595.9 822.7 597.1 818.9 598.2 815.0 599.3 811.2 600.4 807.4 601.5 803.5 602.6 799.7 603.6 795.8 604.7 791.9 605.7 788.1 606.7 784.2 607.7 780.3 608.6 776.5 609.6 772.6 610.5 768.7 611.5 764.8 612.4 760.9 613.3 757.0 614.2 753.1 615.0 749.2 615.9 745.3 616.7 741.4 617.6 737.5 618.4 733.6 619.2 729.7 620.0 725.8 620.8 721.8 621.6 717.9 622.4 714.0 623.2 710.1 624.0 706.1 624.7 702.2 625.5 698.3 626.2 694.4 627.0 690.4 627.7 686.5 628.4 682.6 629.1 678.6 629.9 674.7 630.6 670.8 631.3 666.8 632.0 662.9 632.7 659.0 633.4 655.0 634.1 651.1 634.8 647.1 635.5 643.2 636.1 639.3 636.8 635.3 637.5 631.4 638.2 627.4 638.8 623.5 639.5 619.5 640.1 615.6 640.8 611.6 641.4 607.7 642.1 603.8 642.7 599.8 643.4 595.9 644.0 591.9 644.6 588.0 645.3 584.0 645.9 580.1 646.5 576.1 647.1 572.1 647.7 568.2 648.4 564.2 649.0 560.3 649.6 556.3 650.2 552.4 650.8 548.4 651.4 544.5 652.0 540.5 652.6 536.6 653.2 532.6 653.8 528.6 654.4 524.7 655.0 520.7 655.6 516.8 656.2 512.8 656.8 508.9 657.4 504.9 658.0 500.9 658.6 497.0 659.2 493.0 659.8 489.1 660.4 485.1 661.0 481.2 661.5 477.2 662.1 473.2 662.7 469.3 663.3 465.3 663.9 461.4 664.5 457.4 665.1 453.4 665.7 449.5 666.3 445.5 666.9 441.6 667.5 437.6 668.1 433.7 668.7 429.7 669.2 425.7 669.8 421.8 670.4 417.8 671.0 413.9 671.7 409.9 672.3 406.0 672.9 402.0 673.5 398.1 674.1 394.1 674.7 390.1 675.3 386.2 675.9 382.2 676.5 378.3 677.2 374.3 677.8 370.4 678.4 366.4 679.0 362.5 679.7 358.5 680.3 354.6 680.9 350.6 681.6 346.7 682.2 342.7 682.9 338.8 683.5 334.8 684.2 330.9 684.8 326.9 685.5 323.0 686.2 319.0 686.8 315.1 687.5 311.2 688.2 307.2 688.9 303.3 689.6 299.3 690.2 295.4 690.9 291.5 691.6 287.5 692.3 283.6 693.1 279.6 693.8 275.7 694.5 271.8 695.2 267.8 695.9 263.9 696.7 260.0 697.4 256.0 698.2 252.1 698.9 248.2 699.7 244.3 700.4 240.3 701.2 236.4 702.0 232.5 702.8 228.6 703.5 224.6 704.3 220.7 705.1 216.8 705.9 212.9 706.8 209.0 707.6 205.0 708.4 201.1 709.2 197.2 710.1 193.3 710.9 189.4 711.8 185.5 712.6 181.6 713.5 177.7 714.4 173.8 715.3 169.8 716.2 165.9 717.1 162.0 718.0 158.1 718.9 154.2 719.8 150.3 720.7 146.5 721.7 142.6 722.7 138.7 723.7 134.8 724.8 131.0 726.0 127.1 727.2 123.3 728.5 119.6 730.0 115.8 731.6 112.2 733.3 108.5 735.1 104.9 737.1 101.4 739.3 97.9 741.6 94.5 744.2 91.2 746.9 88.1 749.8 85.2 752.9 82.8 756.2 80.7 759.7 79.2 763.3 78.3 767.0 78.0 770.8 78.2 774.6 79.0 778.2 80.3 781.7 82.1 785.1 84.3 788.3 86.8 791.4 89.5 794.5 92.4 797.4 95.3 800.2 98.2 802.9 101.2 805.6 104.2 808.2 107.3 810.7 110.4 813.2 113.6 815.6 116.8 818.0 120.0 820.3 123.2 822.6 126.5 824.8 129.8 827.0 133.1 829.2 136.4 831.4 139.7 833.6 143.0 835.8 146.4 838.0 149.7 840.1 153.1 842.3 156.4 844.5 159.7 846.7 163.1 848.8 166.4 851.0 169.8 853.2 173.2 855.4 176.5 857.6 179.9 859.8 183.2 861.9 186.6 864.1 189.9 866.3 193.3 868.5 196.6 870.7 200.0 872.9 203.3 875.2 206.7 877.4 210.0 879.6 213.3 881.8 216.7 884.1 220.0 886.3 223.3 888.6 226.6 890.8 229.9 893.1 233.2 895.4 236.5 897.6 239.8 899.9 243.1 902.2 246.4 904.5 249.7 906.9 252.9 909.2 256.2 911.5 259.4 913.9 262.7 916.3 265.9 918.6 269.1 921.0 272.3 923.4 275.5 925.8 278.7 928.2 281.9 930.6 285.1 933.1 288.3 935.5 291.5 938.0 294.6 940.4 297.8 942.9 300.9 945.4 304.0 947.9 307.2 950.4 310.3 952.9 313.4 955.4 316.5 957.9 319.6 960.5 322.7 963.0 325.7 965.6 328.8 968.2 331.9 970.7 334.9 973.3 338.0 975.9 341.0 978.5 344.0 981.1 347.1 983.7 350.1 986.4 353.1 989.0 356.1 991.7 359.1 994.3 362.1 997.0 365.0 999.6 368.0 1002.3 371.0 1005.0 373.9 1007.7 376.9 1010.4 379.8 1013.1 382.8 1015.8 385.7 1018.6 388.6 1021.3 391.5 1024.0 394.4 1026.8 397.3 1029.6 400.2 1032.3 403.1 1035.1 406.0 1037.9 408.9 1040.7 411.7 1043.5 414.6 1046.3 417.4 1049.1 420.3 1051.9 423.1 1054.7 426.0 1057.5 428.8 1060.4 431.6 1063.2 434.4 1066.1 437.2 1068.9 440.0 1071.8 442.8 1074.7 445.6 1077.6 448.4 1080.4 451.1 1083.3 453.9 1086.2 456.7 1089.1 459.4 1092.1 462.2 1095.0 464.9 1097.9 467.7 1100.8 470.4 1103.8 473.1 1106.7 475.8 1109.7 478.5 1112.6 481.2 1115.6 483.9 1118.5 486.6 1121.5 489.3 1124.5 492.0 1127.5 494.7 1130.4 497.3 1133.4 500.0 1136.4 502.7 1139.4 505.3 1142.5 508.0 1145.5 510.6 1148.5 513.2 1151.5 515.9 1154.5 518.5 1157.6 521.1 1160.6 523.7 1163.7 526.3 1166.7 528.9 1169.8 531.5 1172.8 534.1 1175.9 536.7 1179.0 539.3 1182.0 541.9 1185.1 544.4 1188.2 547.0 1191.3 549.6 1194.4 552.1 1197.4 554.7 1200.5 557.2 1203.6 559.8 1206.8 562.3 1209.9 564.8 1213.0 567.3 1216.1 569.9 1219.2 572.4 1222.3 574.9 1225.5 577.4 1228.6 579.9 1231.7 582.4 1234.9 584.9 1238.0 587.4 1241.2 589.9 1244.3 592.3 1247.5 594.8 1250.6 597.3 1253.8 599.7 1256.9 602.2 1260.1 604.7 1263.3 607.1 1266.4 609.5 1269.6 612.0 1272.8 614.4 1275.9 616.9 1279.1 619.3 1282.3 621.7 1285.5 624.1 1288.7 626.5 1291.9 629.0 1295.1 631.4 1298.3 633.8 1301.4 636.2 1304.6 638.6 1307.8 641.0 1311.1 643.3 1314.3 645.7 1317.5 648.1 1320.7 650.4 1323.9 652.8 1327.1 655.2 1330.4 657.5 1333.6 659.8 1336.8 662.2 1340.1 664.5 1343.3 666.8 1346.6 669.1 1349.9 671.4 1353.1 673.7 1356.4 676.0 1359.7 678.3 1363.0 680.5 1366.3 682.8 1369.6 685.0 1372.9 687.2 1376.2 689.5 1379.5 691.7 1382.8 693.9 1386.2 696.1 1389.5 698.2 1392.9 700.4 1396.2 702.6 1399.6 704.7 1403.0 706.8 1406.3 709.0 1409.7 711.1 1413.1 713.2 1416.6 715.2 1420.0 717.3 1423.4 719.4 1426.8 721.4 1430.3 723.5 1433.7 725.5 1437.2 727.5 1440.7 729.5 1444.1 731.5 1447.6 733.5 1451.1 735.5 1454.6 737.5 1458.0 739.5 1461.5 741.4 1465.0 743.4 1468.5 745.4 1472.0 747.3 1475.5 749.3 1479.1 751.2 1482.6 753.1 1486.1 755.1 1489.6 757.0 1493.1 758.9 1496.6 760.9 1500.1 762.8 1503.7 764.7 1507.2 766.7 1510.7 768.6 1514.2 770.5 1517.7 772.4 1521.3 774.4 1524.8 776.3 1528.3 778.2 1531.8 780.2 1535.3 782.1 1538.8 784.0 1542.3 786.0 1545.8 787.9 1549.3 789.9 1552.8 791.8 1556.3 793.8 1559.8 795.7 1563.3 797.7 1566.8 799.6 1570.3 801.6 1573.7 803.6 1577.2 805.5 1580.7 807.5 1584.2 809.4 1587.7 811.4 1591.2 813.3 1594.7 815.2 1598.2 817.2 1601.7 819.1 1605.2 821.0 1608.7 823.0 1612.2 824.9 1615.7 826.8 1619.2 828.7 1622.7 830.6 1626.2 832.5 1629.7 834.3 1633.3 836.2 1636.8 838.1 1640.4 839.9 1643.9 841.7 1647.4 843.5 1651.0 845.4 1654.6 847.2 1658.1 848.9 1661.7 850.7 1665.3 852.5 1668.9 854.2 1672.5 855.9 1676.1 857.6 1679.7 859.3 1683.4 861.0 1687.0 862.7 1690.7 864.3 1694.3 865.9 1698.0 867.5 1701.7 869.1 1705.4 870.7 1709.0 872.3 1712.7 873.8 1716.4 875.4 1720.2 876.9 1723.9 878.4 1727.6 879.9 1731.3 881.4 1735.1 882.9 1738.8 884.4 1742.5 885.9 1746.3 887.3 1750.0 888.8 1753.7 890.2 1757.5 891.7 1761.2 893.1 1765.0 894.6 1768.7 896.0 1772.4 897.5 1776.2 898.9 1779.9 900.4 1783.6 901.8 1787.4 903.3 1791.1 904.7 1794.8 906.2 1798.5 907.7 1802.2 909.1 1805.9 910.6 1809.6 912.1"/>
<path stroke="#00ffff" stroke-width="8" d="M288.0 923.0L292.0 923.5 296.1 924.1 300.1 924.7 304.1 925.3 308.1 925.9 312.1 926.5 316.0 927.2 320.0 927.8 323.9 928.5 327.8 929.2 331.8 929.9 335.7 930.7 339.6 931.4 343.5 932.1 347.4 932.9 351.2 933.6 355.1 934.4 359.0 935.2 362.9 935.9 366.8 936.7 370.7 937.5 374.5 938.3 378.4 939.1 382.3 939.8 386.2 940.6 390.1 941.4 394.0 942.1 397.9 942.9 401.8 943.7 405.7 944.4 409.6 945.2 413.6 945.9 417.5 946.6 421.5 947.3 425.5 948.0 429.5 948.7 433.5 949.4 437.5 950.0 441.5 950.7 445.6 951.3 449.6 951.9 453.7 952.4 457.8 952.9 461.8 953.3 465.9 953.7 469.9 953.9 474.0 954.1 478.0 954.1 482.0 954.1 486.0 953.9 490.0 953.5 493.9 953.0 497.8 952.4 501.6 951.5 505.4 950.5 509.1 949.3 512.8 948.0 516.5 946.4 520.0 944.7 523.5 942.9 527.0 940.9 530.3 938.8 533.6 936.5 536.8 934.1 539.9 931.5 542.9 928.9 545.8 926.1 548.6 923.3 551.3 920.3 553.9 917.3 556.4 914.1 558.7 910.9 561.0 907.7 563.1 904.3 565.2 900.9 567.1 897.4 569.0 893.9 570.8 890.3 572.5 886.7 574.2 883.1 575.8 879.4 577.3 875.7 578.8 872.0 580.3 868.2 581.7 864.5 583.1 860.7 584.5 856.9 585.9 853.1 587.2 849.4 588.5 845.6 589.8 841.8 591.1 838.0 592.3 834.2 593.5 830.4 594.7 826.5 595.9 822.7 597.1 818.9 598.2 815.0 599.3 811.2 600.4 807.4 601.5 803.5 602.6 799.7 603.6 795.8 604.7 791.9 605.7 788.1 606.7 784.2 607.7 780.3 608.6 776.5 609.6 772.6 610.5 768.7 611.5 764.8 612.4 760.9 613.3 757.0 614.2 753.1 615.0 749.2 615.9 745.3 616.7 741.4 617.6 737.5 618.4 733.6 619.2 729.7 620.0 725.8 620.8 721.8 621.6 717.9 622.4 714.0 623.2 710.1 624.0 706.1 624.7 702.2 625.5 698.3 626.2 694.4 627.0 690.4 627.7 686.5 628.4 682.6 629.1 678.6 629.9 674.7 630.6 670.8 631.3 666.8 632.0 662.9 632.7 659.0 633.4 655.0 634.1 651.1 634.8 647.1 635.5 643.2 636.1 639.3 636.8 635.3 637.5 631.4 638.2 627.4 638.8 623.5 639.5 619.5 640.1 615.6 640.8 611.6 641.4 607.7 642.1 603.8 642.7 599.8 643.4 595.9 644.0 591.9 644.6 588.0 645.3 584.0 645.9 580.1 646.5 576.1 647.1 572.1 647.7 568.2 648.4 564.2 649.0 560.3 649.6 556.3 650.2 552.4 650.8 548.4 651.4 544.5 652.0 540.5 652.6 536.6 653.2 532.6 653.8 528.6 654.4 524.7 655.0 520.7 655.6 516.8 656.2 512.8 656.8 508.9 657.4 504.9 658.0 500.9 658.6 497.0 659.2 493.0 659.8 489.1 660.4 485.1 661.0 481.2 661.5 477.2 662.1 473.2 662.7 469.3 663.3 465.3 663.9 461.4 664.5 457.4 665.1 453.4 665.7 449.5 666.3 445.5 666.9 441.6 667.5 437.6 668.1 433.7 668.7 429.7 669.2 425.7 669.8 421.8 670.4 417.8 671.0 413.9 671.7 409.9 672.3 406.0 672.9 402.0 673.5 398.1 674.1 394.1 674.7 390.1 675.3 386.2 675.9 382.2 676.5 378.3 677.2 374.3 677.8 370.4 678.4 366.4 679.0 362.5 679.7 358.5 680.3 354.6 680.9 350.6 681.6 346.7 682.2 342.7 682.9 338.8 683.5 334.8 684.2 330.9 684.8 326.9 685.5 323.0 686.2 319.0 686.8 315.1 687.5 311.2 688.2 307.2 688.9 303.3 689.6 299.3 690.2 295.4 690.9 291.5 691.6 287.5 692.3 283.6 693.1 279.6 693.8 275.7 694.5 271.8 695.2 267.8 695.9 263.9 696.7 260.0 697.4 256.0 698.2 252.1 698.9 248.2 699.7 244.3 700.4 240.3 701.2 236.4 702.0 232.5 702.8 228.6 703.5 224.6 704.3 220.7 705.1 216.8 705.9 212.9 706.8 209.0 707.6 205.0 708.4 201.1 709.2 197.2 710.1 193.3 710.9 189.4 711.8 185.5 712.6 181.6 713.5 177.7 714.4 173.8 715.3 169.8 716.2 165.9 717.1 162.0 718.0 158.1 718.9 154.2 719.8 150.3 720.7 146.5 721.7 142.6 722.7 138.7 723.7 134.8 724.8 131.0 726.0 127.1 727.2 123.3 728.5 119.6 730.0 115.8 731.6 112.2 733.3 108.5 735.1 104.9 737.1 101.4 739.3 97.9 741.6 94.5 744.2 91.2 746.9 88.1 749.8 85.2 752.9 82.8 756.2 80.7 759.7 79.2 763.3 78.3 767.0 78.0 770.8 78.2 774.6 79.0 778.2 80.3 781.7 82.1 785.1 84.3 788.3 86.8 791.4 89.5 794.5 92.4 797.4 95.3 800.2 98.2 802.9 101.2 805.6 104.2 808.2 107.3 810.7 110.4 813.2 113.6 815.6 116.8 818.0 120.0 820.3 123.2 822.6 126.5 824.8 129.8 827.0 133.1 829.2 136.4 831.4 139.7 833.6 143.0 835.8 146.4 838.0 149.7 840.1 153.1 842.3 156.4 844.5 159.7 846.7 163.1 848.8 166.4 851.0 169.8 853.2 173.2 855.4 176.5 857.6 179.9 859.8 183.2 861.9 186.6 864.1 189.9 866.3 193.3 868.5 196.6 870.7 200.0 872.9 203.3 875.2 206.7 877.4 210.0 879.6 213.3 881.8 216.7 884.1 220.0 886.3 223.3 888.6 226.6 890.8 229.9 893.1 233.2 895.4 236.5 897.6 239.8 899.9 243.1 902.2 246.4 904.5 249.7 906.9 252.9 909.2 256.2 911.5 259.4 913.9 262.7 916.3 265.9 918.6 269.1 921.0 272.3 923.4 275.5 925.8 278.7 928.2 281.9 930.6 285.1 933.1 288.3 935.5 291.5 938.0 294.6 940.4 297.8 942.9 300.9 945.4 304.0 947.9 307.2 950.4 310.3 952.9 313.4 955.4 316.5 957.9 319.6 960.5 322.7 963.0 325.7 965.6 328.8 968.2 331.9 970.7 334.9 973.3 338.0 975.9 341.0 978.5 344.0 981.1 347.1 983.7 350.1 986.4 353.1 989.0 356.1 991.7 359.1 994.3 362.1 997.0 365.0 999.6 368.0 1002.3 371.0 1005.0 373.9 1007.7 376.9 1010.4 379.8 1013.1 382.8 1015.8 385.7 1018.6 388.6 1021.3 391.5 1024.0 394.4 1026.8 397.3 1029.6 400.2 1032.3 403.1 1035.1 406.0 1037.9 408.9 1040.7 411.7 1043.5 414.6 1046.3 417.4 1049.1 420.3 1051.9 423.1 1054.7 426.0 1057.5 428.8 1060.4 431.6 1063.2 434.4 1066.1 437.2 1068.9 440.0 1071.8 442.8 1074.7 445.6 1077.6 448.4 1080.4 451.1 1083.3 453.9 1086.2 456.7 1089.1 459.4 1092.1 462.2 1095.0 464.9 1097.9 467.7 1100.8 470.4 1103.8 473.1 1106.7 475.8 1109.7 478.5 1112.6 481.2 1115.6 483.9 1118.5 486.6 1121.5 489.3 1124.5 492.0 1127.5 494.7 1130.4 497.3 1133.4 500.0 1136.4 502.7 1139.4 505.3 1142.5 508.0 1145.5 510.6 1148.5 513.2 1151.5 515.9 1154.5 518.5 1157.6 521.1 1160.6 523.7 1163.7 526.3 1166.7 528.9 1169.8 531.5 1172.8 534.1 1175.9 536.7 1179.0 539.3 1182.0 541.9 1185.1 544.4 1188.2 547.0 1191.3 549.6 1194.4 552.1 1197.4 554.7 1200.5 557.2 1203.6 559.8 1206.8 562.3 1209.9 564.8 1213.0 567.3 1216.1 569.9 1219.2 572.4 1222.3 574.9 1225.5 577.4 1228.6 579.9 1231.7 582.4 1234.9 584.9 1238.0 587.4 1241.2 589.9 1244.3 592.3 1247.5 594.8 1250.6 597.3 1253.8 599.7 1256.9 602.2 1260.1 604.7 1263.3 607.1 1266.4 609.5 1269.6 612.0 1272.8 614.4 1275.9 616.9 1279.1 619.3 1282.3 621.7 1285.5 624.1 1288.7 626.5 1291.9 629.0 1295.1 631.4 1298.3 633.8 1301.4 636.2 1304.6 638.6 1307.8 641.0 1311.1 643.3 1314.3 645.7 1317.5 648.1 1320.7 650.4 1323.9 652.8 1327.1 655.2 1330.4 657.5 1333.6 659.8 1336.8 662.2 1340.1 664.5 1343.3 666.8 1346.6 669.1 1349.9 671.4 1353.1 673.7 1356.4 676.0 1359.7 678.3 1363.0 680.5 1366.3 682.8 1369.6 685.0 1372.9 687.2 1376.2 689.5 1379.5 691.7 1382.8 693.9 1386.2 696.1 1389.5 698.2 1392.9 700.4 1396.2 702.6 1399.6 704.7 1403.0 706.8 1406.3 709.0 1409.7 711.1 1413.1 713.2 1416.6 715.2 1420.0 717.3 1423.4 719.4 1426.8 721.4 1430.3 723.5 1433.7 725.5 1437.2 727.5 1440.7 729.5 1444.1 731.5 1447.6 733.5 1451.1 735.5 1454.6 737.5 1458.0 739.5 1461.5 741.4 1465.0 743.4 1468.5 745.4 1472.0 747.3 1475.5 749.3 1479.1 751.2 1482.6 753.1 1486.1 755.1 1489.6 757.0 1493.1 758.9 1496.6 760.9 1500.1 762.8 1503.7 764.7 1507.2 766.7 1510.7 768.6 1514.2 770.5 1517.7 772.4 1521.3 774.4 1524.8 776.3 1528.3 778.2 1531.8 780.2 1535.3 782.1 1538.8 784.0 1542.3 786.0 1545.8 787.9 1549.3 789.9 1552.8 791.8 1556.3 793.8 1559.8 795.7 1563.3 797.7 1566.8 799.6 1570.3 801.6 1573.7 803.6 1577.2 805.5 1580.7 807.5 1584.2 809.4 1587.7 811.4 1591.2 813.3 1594.7 815.2 1598.2 817.2 1601.7 819.1 1605.2 821.0 1608.7 823.0 1612.2 824.9 1615.7 826.8 1619.2 828.7 1622.7 830.6 1626.2 832.5 1629.7 834.3 1633.3 836.2 1636.8 838.1 1640.4 839.9 1643.9 841.7 1647.4 843.5 1651.0 845.4 1654.6 847.2 1658.1 848.9 1661.7 850.7 1665.3 852.5 1668.9 854.2 1672.5 855.9 1676.1 857.6 1679.7 859.3 1683.4 861.0 1687.0 862.7 1690.7 864.3 1694.3 865.9 1698.0 867.5 1701.7 869.1 1705.4 870.7 1709.0 872.3 1712.7 873.8 1716.4 875.4 1720.2 876.9 1723.9 878.4 1727.6 879.9 1731.3 881.4 1735.1 882.9 1738.8 884.4 1742.5 885.9 1746.3 887.3 1750.0 888.8 1753.7 890.2 1757.5 891.7 1761.2 893.1 1765.0 894.6 1768.7 896.0 1772.4 897.5 1776.2 898.9 1779.9 900.4 1783.6 901.8 1787.4 903.3 1791.1 904.7 1794.8 906.2 1798.5 907.7 1802.2 909.1 1805.9 910.6 1809.6 912.1"/>
<path stroke="#ff00ff" shape-rendering="crispEdges" d="M288.0 846.0L292.0 846.3 296.0 846.5 300.1 846.8 304.1 847.0 308.1 847.3 312.1 847.5 316.1 847.7 320.1 848.0 324.1 848.2 328.0 848.4 332.0 848.7 336.0 848.9 340.0 849.1 344.0 849.3 347.9 849.5 351.9 849.7 355.9 850.0 359.9 850.2 363.8 850.4 367.8 850.6 371.8 850.9 375.8 851.1 379.8 851.3 383.7 851.5 387.7 851.8 391.7 852.0 395.7 852.3 399.7 852.5 403.7 852.8 407.7 853.0 411.8 853.3 415.8 853.5 419.8 853.8 423.8 854.0 427.9 854.2 431.9 854.4 435.9 854.5 439.9 854.6 444.0 854.6 448.0 854.6 452.0 854.6 456.0 854.5 460.0 854.3 464.0 854.1 468.0 853.8 472.0 853.4 476.0 852.9 480.0 852.4 483.9 851.7 487.9 851.0 491.8 850.1 495.7 849.2 499.6 848.2 503.4 847.0 507.2 845.8 511.0 844.4 514.6 842.9 518.3 841.3 521.8 839.6 525.3 837.7 528.7 835.7 532.0 833.6 535.3 831.4 538.4 829.0 541.5 826.4 544.4 823.8 547.2 821.0 550.0 818.1 552.6 815.0 555.2 811.9 557.7 808.7 560.1 805.5 562.4 802.1 564.6 798.7 566.8 795.3 568.9 791.8 571.0 788.4 573.0 784.8 574.9 781.3 576.8 777.7 578.6 774.2 580.4 770.6 582.1 767.0 583.8 763.3 585.4 759.7 587.0 756.0 588.6 752.3 590.1 748.6 591.6 744.9 593.1 741.2 594.5 737.5 596.0 733.8 597.4 730.0 598.7 726.3 600.1 722.5 601.4 718.8 602.8 715.0 604.1 711.2 605.4 707.5 606.6 703.7 607.9 699.9 609.1 696.1 610.3 692.3 611.5 688.5 612.7 684.7 613.9 680.8 615.0 677.0 616.2 673.2 617.3 669.3 618.4 665.5 619.5 661.6 620.6 657.8 621.6 653.9 622.7 650.1 623.7 646.2 624.8 642.4 625.8 638.5 626.8 634.6 627.8 630.7 628.8 626.9 629.7 623.0 630.7 619.1 631.7 615.2 632.6 611.3 633.6 607.4 634.5 603.5 635.4 599.6 636.3 595.7 637.2 591.8 638.1 587.9 639.0 584.0 639.9 580.1 640.8 576.2 641.6 572.3 642.5 568.4 643.4 564.5 644.2 560.5 645.1 556.6 645.9 552.7 646.8 548.8 647.6 544.9 648.5 541.0 649.3 537.0 650.1 533.1 650.9 529.2 651.7 525.3 652.6 521.4 653.4 517.5 654.2 513.5 655.0 509.6 655.8 505.7 656.6 501.8 657.4 497.8 658.2 493.9 659.0 490.0 659.7 486.1 660.5 482.1 661.3 478.2 662.1 474.3 662.9 470.4 663.6 466.4 664.4 462.5 665.2 458.6 665.9 454.7 666.7 450.7 667.5 446.8 668.2 442.9 669.0 439.0 669.8 435.0 670.5 431.1 671.3 427.2 672.1 423.2 672.8 419.3 673.6 415.4 674.3 411.5 675.1 407.5 675.9 403.6 676.6 399.7 677.4 395.7 678.1 391.8 678.9 387.9 679.7 384.0 680.4 380.0 681.2 376.1 682.0 372.2 682.7 368.3 683.5 364.3 684.3 360.4 685.0 356.5 685.8 352.6 686.6 348.6 687.4 344.7 688.1 340.8 688.9 336.9 689.7 332.9 690.5 329.0 691.3 325.1 692.1 321.2 692.9 317.3 693.7 313.3 694.5 309.4 695.3 305.5 696.1 301.6 696.9 297.7 697.7 293.7 698.5 289.8 699.3 285.9 700.2 282.0 701.0 278.1 701.8 274.2 702.7 270.3 703.5 266.4 704.4 262.4 705.2 258.5 706.1 254.6 706.9 250.7 707.8 246.8 708.7 242.9 709.6 239.0 710.4 235.1 711.3 231.2 712.2 227.3 713.1 223.4 714.0 219.5 715.0 215.6 715.9 211.7 716.8 207.8 717.7 203.9 718.7 200.0 719.6 196.2 720.6 192.3 721.5 188.4 722.5 184.5 723.5 180.6 724.5 176.7 725.5 172.9 726.5 169.0 727.6 165.1 728.6 161.3 729.7 157.4 730.8 153.6 732.0 149.7 733.1 145.9 734.3 142.1 735.6 138.3 736.8 134.5 738.2 130.7 739.5 126.9 740.9 123.2 742.3 119.5 743.8 115.7 745.4 112.0 746.9 108.3 748.6 104.7 750.3 101.0 752.0 97.4 753.8 93.8 755.7 90.2 757.6 86.6 759.6 83.0 761.7 79.5 763.9 76.1 766.2 72.7 768.6 69.5 771.1 66.4 773.8 63.5 776.7 60.8 779.7 58.4 783.0 56.3 786.4 54.4 790.0 52.8 793.7 51.5 797.4 50.5 801.3 49.8 805.2 49.3 809.1 49.2 813.0 49.4 816.8 49.8 820.6 50.6 824.4 51.7 828.1 53.0 831.7 54.6 835.3 56.3 838.8 58.2 842.3 60.3 845.8 62.5 849.2 64.7 852.6 67.0 856.0 69.3 859.4 71.7 862.8 74.0 866.1 76.4 869.5 78.7 872.8 81.1 876.1 83.5 879.4 85.9 882.7 88.3 885.9 90.7 889.2 93.1 892.4 95.5 895.7 97.9 898.9 100.3 902.1 102.8 905.3 105.2 908.5 107.6 911.7 110.1 914.9 112.5 918.1 115.0 921.3 117.4 924.4 119.9 927.6 122.3 930.8 124.8 933.9 127.2 937.1 129.7 940.2 132.1 943.4 134.5 946.5 137.0 949.7 139.4 952.8 141.9 956.0 144.3 959.1 146.7 962.3 149.1 965.4 151.5 968.6 153.9 971.8 156.3 974.9 158.7 978.1 161.1 981.3 163.5 984.4 165.8 987.6 168.2 990.8 170.5 994.0 172.8 997.3 175.2 1000.5 177.5 1003.7 179.8 1006.9 182.0 1010.2 184.3 1013.5 186.5 1016.7 188.8 1020.0 191.0 1023.3 193.2 1026.6 195.4 1030.0 197.6 1033.3 199.7 1036.7 201.9 1040.0 204.0 1043.4 206.1 1046.8 208.2 1050.2 210.3 1053.6 212.3 1057.0 214.4 1060.5 216.4 1063.9 218.5 1067.3 220.5 1070.8 222.5 1074.3 224.5 1077.7 226.5 1081.2 228.5 1084.7 230.5 1088.2 232.5 1091.7 234.5 1095.1 236.5 1098.6 238.4 1102.2 240.4 1105.7 242.3 1109.2 244.3 1112.7 246.3 1116.2 248.2 1119.7 250.2 1123.2 252.1 1126.7 254.1 1130.3 256.0 1133.8 258.0 1137.3 259.9 1140.8 261.9 1144.3 263.8 1147.8 265.8 1151.3 267.8 1154.8 269.8 1158.3 271.7 1161.8 273.7 1165.3 275.7 1168.8 277.7 1172.3 279.7 1175.7 281.7 1179.2 283.8 1182.7 285.8 1186.1 287.9 1189.5 289.9 1193.0 292.0 1196.4 294.0 1199.8 296.1 1203.3 298.2 1206.7 300.3 1210.1 302.4 1213.5 304.5 1216.9 306.6 1220.3 308.7 1223.7 310.9 1227.1 313.0 1230.5 315.1 1233.8 317.3 1237.2 319.4 1240.6 321.6 1243.9 323.8 1247.3 325.9 1250.6 328.1 1254.0 330.3 1257.3 332.5 1260.7 334.7 1264.0 336.9 1267.4 339.1 1270.7 341.3 1274.0 343.5 1277.4 345.7 1280.7 347.9 1284.0 350.2 1287.3 352.4 1290.6 354.6 1293.9 356.9 1297.3 359.1 1300.6 361.3 1303.9 363.6 1307.2 365.8 1310.5 368.1 1313.8 370.3 1317.1 372.6 1320.4 374.9 1323.7 377.1 1326.9 379.4 1330.2 381.7 1333.5 383.9 1336.8 386.2 1340.1 388.5 1343.4 390.8 1346.7 393.0 1350.0 395.3 1353.2 397.6 1356.5 399.9 1359.8 402.2 1363.1 404.5 1366.4 406.7 1369.7 409.0 1372.9 411.3 1376.2 413.6 1379.5 415.9 1382.8 418.2 1386.1 420.4 1389.4 422.7 1392.6 425.0 1395.9 427.3 1399.2 429.6 1402.5 431.9 1405.8 434.1 1409.1 436.4 1412.4 438.7 1415.7 441.0 1418.9 443.3 1422.2 445.6 1425.5 447.8 1428.8 450.1 1432.1 452.4 1435.4 454.7 1438.7 457.0 1442.0 459.2 1445.3 461.5 1448.5 463.8 1451.8 466.1 1455.1 468.4 1458.4 470.7 1461.7 473.0 1465.0 475.2 1468.3 477.5 1471.6 479.8 1474.8 482.1 1478.1 484.4 1481.4 486.7 1484.7 489.0 1488.0 491.3 1491.3 493.6 1494.5 495.9 1497.8 498.2 1501.1 500.5 1504.4 502.8 1507.6 505.1 1510.9 507.4 1514.2 509.7 1517.4 512.0 1520.7 514.3 1524.0 516.7 1527.2 519.0 1530.5 521.3 1533.8 523.6 1537.0 526.0 1540.3 528.3 1543.5 530.6 1546.8 532.9 1550.0 535.3 1553.3 537.6 1556.5 540.0 1559.8 542.3 1563.0 544.7 1566.3 547.0 1569.5 549.4 1572.7 551.7 1576.0 554.1 1579.2 556.4 1582.4 558.8 1585.6 561.2 1588.9 563.6 1592.1 565.9 1595.3 568.3 1598.5 570.7 1601.7 573.1 1604.9 575.4 1608.2 577.8 1611.4 580.2 1614.6 582.6 1617.8 585.0 1621.0 587.4 1624.2 589.8 1627.4 592.2 1630.6 594.6 1633.8 597.0 1637.0 599.3 1640.2 601.7 1643.4 604.1 1646.6 606.5 1649.9 608.9 1653.1 611.3 1656.3 613.7 1659.5 616.1 1662.7 618.5 1665.9 620.9 1669.1 623.2 1672.3 625.6 1675.5 628.0 1678.8 630.4 1682.0 632.8 1685.2 635.1 1688.4 637.5 1691.7 639.9 1694.9 642.2 1698.1 644.6 1701.3 647.0 1704.6 649.3 1707.8 651.7 1711.1 654.0 1714.3 656.4 1717.6 658.7 1720.8 661.1 1724.1 663.4 1727.3 665.7 1730.6 668.0 1733.9 670.4 1737.1 672.7 1740.4 675.0 1743.7 677.3 1747.0 679.6 1750.3 681.8 1753.6 684.1 1756.9 686.3 1760.3 688.5 1763.6 690.7 1767.0 692.8 1770.4 694.9 1773.8 697.0 1777.3 699.0 1780.7 701.0 1784.2 702.9 1787.8 704.8 1791.3 706.6 1794.9 708.4 1798.5 710.1 1802.2 711.7 1805.9 713.3 1809.6 714.8"/>
<path stroke="#ff00ff" stroke-width="8" d="M288.0 846.0L292.0 846.3 296.0 846.5 300.1 846.8 304.1 847.0 308.1 847.3 312.1 847.5 316.1 847.7 320.1 848.0 324.1 848.2 328.0 848.4 332.0 848.7 336.0 848.9 340.0 849.1 344.0 849.3 347.9 849.5 351.9 849.7 355.9 850.0 359.9 850.2 363.8 850.4 367.8 850.6 371.8 850.9 375.8 851.1 379.8 851.3 383.7 851.5 387.7 851.8 391.7 852.0 395.7 852.3 399.7 852.5 403.7 852.8 407.7 853.0 411.8 853.3 415.8 853.5 419.8 853.8 423.8 854.0 427.9 854.2 431.9 854.4 435.9 854.5 439.9 854.6 444.0 854.6 448.0 854.6 452.0 854.6 456.0 854.5 460.0 854.3 464.0 854.1 468.0 853.8 472.0 853.4 476.0 852.9 480.0 852.4 483.9 851.7 487.9 851.0 491.8 850.1 495.7 849.2 499.6 848.2 503.4 847.0 507.2 845.8 511.0 844.4 514.6 842.9 518.3 841.3 521.8 839.6 525.3 837.7 528.7 835.7 532.0 833.6 535.3 831.4 538.4 829.0 541.5 826.4 544.4 823.8 547.2 821.0 550.0 818.1 552.6 815.0 555.2 811.9 557.7 808.7 560.1 805.5 562.4 802.1 564.6 798.7 566.8 795.3 568.9 791.8 571.0 788.4 573.0 784.8 574.9 781.3 576.8 777.7 578.6 774.2 580.4 770.6 582.1 767.0 583.8 763.3 585.4 759.7 587.0 756.0 588.6 752.3 590.1 748.6 591.6 744.9 593.1 741.2 594.5 737.5 596.0 733.8 597.4 730.0 598.7 726.3 600.1 722.5 601.4 718.8 602.8 715.0 604.1 711.2 605.4 707.5 606.6 703.7 607.9 699.9 609.1 696.1 610.3 692.3 611.5 688.5 612.7 684.7 613.9 680.8 615.0 677.0 616.2 673.2 617.3 669.3 618.4 665.5 619.5 661.6 620.6 657.8 621.6 653.9 622.7 650.1 623.7 646.2 624.8 642.4 625.8 638.5 626.8 634.6 627.8 630.7 628.8 626.9 629.7 623.0 630.7 619.1 631.7 615.2 632.6 611.3 633.6 607.4 634.5 603.5 635.4 599.6 636.3 595.7 637.2 591.8 638.1 587.9 639.0 584.0 639.9 580.1 640.8 576.2 641.6 572.3 642.5 568.4 643.4 564.5 644.2 560.5 645.1 556.6 645.9 552.7 646.8 548.8 647.6 544.9 648.5 541.0 649.3 537.0 650.1 533.1 650.9 529.2 651.7 525.3 652.6 521.4 653.4 517.5 654.2 513.5 655.0 509.6 655.8 505.7 656.6 501.8 657.4 497.8 658.2 493.9 659.0 490.0 659.7 486.1 660.5 482.1 661.3 478.2 662.1 474.3 662.9 470.4 663.6 466.4 664.4 462.5 665.2 458.6 665.9 454.7 666.7 450.7 667.5 446.8 668.2 442.9 669.0 439.0 669.8 435.0 670.5 431.1 671.3 427.2 672.1 423.2 672.8 419.3 673.6 415.4 674.3 411.5 675.1 407.5 675.9 403.6 676.6 399.7 677.4 395.7 678.1 391.8 678.9 387.9 679.7 384.0 680.4 380.0 681.2 376.1 682.0 372.2 682.7 368.3 683.5 364.3 684.3 360.4 685.0 356.5 685.8 352.6 686.6 348.6 687.4 344.7 688.1 340.8 688.9 336.9 689.7 332.9 690.5 329.0 691.3 325.1 692.1 321.2 692.9 317.3 693.7 313.3 694.5 309.4 695.3 305.5 696.1 301.6 696.9 297.7 697.7 293.7 698.5 289.8 699.3 285.9 700.2 282.0 701.0 278.1 701.8 274.2 702.7 270.3 703.5 266.4 704.4 262.4 705.2 258.5 706.1 254.6 706.9 250.7 707.8 246.8 708.7 242.9 709.6 239.0 710.4 235.1 711.3 231.2 712.2 227.3 713.1 223.4 714.0 219.5 715.0 215.6 715.9 211.7 716.8 207.8 717.7 203.9 718.7 200.0 719.6 196.2 720.6 192.3 721.5 188.4 722.5 184.5 723.5 180.6 724.5 176.7 725.5 172.9 726.5 169.0 727.6 165.1 728.6 161.3 729.7 157.4 730.8 153.6 732.0 149.7 733.1 145.9 734.3 142.1 735.6 138.3 736.8 134.5 738.2 130.7 739.5 126.9 740.9 123.2 742.3 119.5 743.8 115.7 745.4 112.0 746.9 108.3 748.6 104.7 750.3 101.0 752.0 97.4 753.8 93.8 755.7 90.2 757.6 86.6 759.6 83.0 761.7 79.5 763.9 76.1 766.2 72.7 768.6 69.5 771.1 66.4 773.8 63.5 776.7 60.8 779.7 58.4 783.0 56.3 786.4 54.4 790.0 52.8 793.7 51.5 797.4 50.5 801.3 49.8 805.2 49.3 809.1 49.2 813.0 49.4 816.8 49.8 820.6 50.6 824.4 51.7 828.1 53.0 831.7 54.6 835.3 56.3 838.8 58.2 842.3 60.3 845.8 62.5 849.2 64.7 852.6 67.0 856.0 69.3 859.4 71.7 862.8 74.0 866.1 76.4 869.5 78.7 872.8 81.1 876.1 83.5 879.4 85.9 882.7 88.3 885.9 90.7 889.2 93.1 892.4 95.5 895.7 97.9 898.9 100.3 902.1 102.8 905.3 105.2 908.5 107.6 911.7 110.1 914.9 112.5 918.1 115.0 921.3 117.4 924.4 119.9 927.6 122.3 930.8 124.8 933.9 127.2 937.1 129.7 940.2 132.1 943.4 134.5 946.5 137.0 949.7 139.4 952.8 141.9 956.0 144.3 959.1 146.7 962.3 149.1 965.4 151.5 968.6 153.9 971.8 156.3 974.9 158.7 978.1 161.1 981.3 163.5 984.4 165.8 987.6 168.2 990.8 170.5 994.0 172.8 997.3 175.2 1000.5 177.5 1003.7 179.8 1006.9 182.0 1010.2 184.3 1013.5 186.5 1016.7 188.8 1020.0 191.0 1023.3 193.2 1026.6 195.4 1030.0 197.6 1033.3 199.7 1036.7 201.9 1040.0 204.0 1043.4 206.1 1046.8 208.2 1050.2 210.3 1053.6 212.3 1057.0 214.4 1060.5 216.4 1063.9 218.5 1067.3 220.5 1070.8 222.5 1074.3 224.5 1077.7 226.5 1081.2 228.5 1084.7 230.5 1088.2 232.5 1091.7 234.5 1095.1 236.5 1098.6 238.4 1102.2 240.4 1105.7 242.3 1109.2 244.3 1112.7 246.3 1116.2 248.2 1119.7 250.2 1123.2 252.1 1126.7 254.1 1130.3 256.0 1133.8 258.0 1137.3 259.9 1140.8 261.9 1144.3 263.8 1147.8 265.8 1151.3 267.8 1154.8 269.8 1158.3 271.7 1161.8 273.7 1165.3 275.7 1168.8 277.7 1172.3 279.7 1175.7 281.7 1179.2 283.8 1182.7 285.8 1186.1 287.9 1189.5 289.9 1193.0 292.0 1196.4 294.0 1199.8 296.1 1203.3 298.2 1206.7 300.3 1210.1 302.4 1213.5 304.5 1216.9 306.6 1220.3 308.7 1223.7 310.9 1227.1 313.0 1230.5 315.1 1233.8 317.3 1237.2 319.4 1240.6 321.6 1243.9 323.8 1247.3 325.9 1250.6 328.1 1254.0 330.3 1257.3 332.5 1260.7 334.7 1264.0 336.9 1267.4 339.1 1270.7 341.3 1274.0 343.5 1277.4 345.7 1280.7 347.9 1284.0 350.2 1287.3 352.4 1290.6 354.6 1293.9 356.9 1297.3 359.1 1300.6 361.3 1303.9 363.6 1307.2 365.8 1310.5 368.1 1313.8 370.3 1317.1 372.6 1320.4 374.9 1323.7 377.1 1326.9 379.4 1330.2 381.7 1333.5 383.9 1336.8 386.2 1340.1 388.5 1343.4 390.8 1346.7 393.0 1350.0 395.3 1353.2 397.6 1356.5 399.9 1359.8 402.2 1363.1 404.5 1366.4 406.7 1369.7 409.0 1372.9 411.3 1376.2 413.6 1379.5 415.9 1382.8 418.2 1386.1 420.4 1389.4 422.7 1392.6 425.0 1395.9 427.3 1399.2 429.6 1402.5 431.9 1405.8 434.1 1409.1 436.4 1412.4 438.7 1415.7 441.0 1418.9 443.3 1422.2 445.6 1425.5 447.8 1428.8 450.1 1432.1 452.4 1435.4 454.7 1438.7 457.0 1442.0 459.2 1445.3 461.5 1448.5 463.8 1451.8 466.1 1455.1 468.4 1458.4 470.7 1461.7 473.0 1465.0 475.2 1468.3 477.5 1471.6 479.8 1474.8 482.1 1478.1 484.4 1481.4 486.7 1484.7 489.0 1488.0 491.3 1491.3 493.6 1494.5 495.9 1497.8 498.2 1501.1 500.5 1504.4 502.8 1507.6 505.1 1510.9 507.4 1514.2 509.7 1517.4 512.0 1520.7 514.3 1524.0 516.7 1527.2 519.0 1530.5 521.3 1533.8 523.6 1537.0 526.0 1540.3 528.3 1543.5 530.6 1546.8 532.9 1550.0 535.3 1553.3 537.6 1556.5 540.0 1559.8 542.3 1563.0 544.7 1566.3 547.0 1569.5 549.4 1572.7 551.7 1576.0 554.1 1579.2 556.4 1582.4 558.8 1585.6 561.2 1588.9 563.6 1592.1 565.9 1595.3 568.3 1598.5 570.7 1601.7 573.1 1604.9 575.4 1608.2 577.8 1611.4 580.2 1614.6 582.6 1617.8 585.0 1621.0 587.4 1624.2 589.8 1627.4 592.2 1630.6 594.6 1633.8 597.0 1637.0 599.3 1640.2 601.7 1643.4 604.1 1646.6 606.5 1649.9 608.9 1653.1 611.3 1656.3 613.7 1659.5 616.1 1662.7 618.5 1665.9 620.9 1669.1 623.2 1672.3 625.6 1675.5 628.0 1678.8 630.4 1682.0 632.8 1685.2 635.1 1688.4 637.5 1691.7 639.9 1694.9 642.2 1698.1 644.6 1701.3 647.0 1704.6 649.3 1707.8 651.7 1711.1 654.0 1714.3 656.4 1717.6 658.7 1720.8 661.1 1724.1 663.4 1727.3 665.7 1730.6 668.0 1733.9 670.4 1737.1 672.7 1740.4 675.0 1743.7 677.3 1747.0 679.6 1750.3 681.8 1753.6 684.1 1756.9 686.3 1760.3 688.5 1763.6 690.7 1767.0 692.8 1770.4 694.9 1773.8 697.0 1777.3 699.0 1780.7 701.0 1784.2 702.9 1787.8 704.8 1791.3 706.6 1794.9 708.4 1798.5 710.1 1802.2 711.7 1805.9 713.3 1809.6 714.8"/>
</g>
<g stroke="#000" stroke-width="1.2" stroke-linejoin="miter">
<text x="119.9" y="185.5" font-size="73.0" transform="matrix(1 0 0 1.0400 0 -7.42)">0<tspan x="164.9" dy="-1.58" font-size="62.0" style="font-family:'Noto Sans CJK SC','Liberation Sans',sans-serif">.</tspan> <tspan x="205.3" dy="1.58">9</tspan></text>
<text x="119.9" y="297.4" font-size="73.0" transform="matrix(1 0 0 1.0400 0 -11.90)">0<tspan x="164.9" dy="-1.58" font-size="62.0" style="font-family:'Noto Sans CJK SC','Liberation Sans',sans-serif">.</tspan> <tspan x="207.2" dy="1.58">8</tspan></text>
<text x="119.9" y="410.9" font-size="73.0" transform="matrix(1 0 0 1.0400 0 -16.44)">0<tspan x="164.9" dy="-1.58" font-size="62.0" style="font-family:'Noto Sans CJK SC','Liberation Sans',sans-serif">.</tspan> <tspan x="207.2" dy="1.58">7</tspan></text>
<text x="119.9" y="521.1" font-size="73.0" transform="matrix(1 0 0 1.0400 0 -20.84)">0<tspan x="164.9" dy="-1.58" font-size="62.0" style="font-family:'Noto Sans CJK SC','Liberation Sans',sans-serif">.</tspan> <tspan x="206.7" dy="1.58">6</tspan></text>
<text x="119.9" y="630.7" font-size="73.0" transform="matrix(1 0 0 1.0400 0 -25.23)">0<tspan x="164.9" dy="-1.58" font-size="62.0" style="font-family:'Noto Sans CJK SC','Liberation Sans',sans-serif">.</tspan> <tspan x="208.0" dy="1.58">5</tspan></text>
<text x="119.9" y="746.9" font-size="73.0" transform="matrix(1 0 0 1.0400 0 -29.88)">0<tspan x="164.9" dy="-1.58" font-size="62.0" style="font-family:'Noto Sans CJK SC','Liberation Sans',sans-serif">.</tspan> <tspan x="205.2" dy="1.58">4</tspan></text>
<text x="119.9" y="858.2" font-size="73.0" transform="matrix(1 0 0 1.0400 0 -34.33)">0<tspan x="164.9" dy="-1.58" font-size="62.0" style="font-family:'Noto Sans CJK SC','Liberation Sans',sans-serif">.</tspan> <tspan x="207.3" dy="1.58">3</tspan></text>
<text x="119.9" y="969.9" font-size="73.0" transform="matrix(1 0 0 1.0400 0 -38.80)">0<tspan x="164.9" dy="-1.58" font-size="62.0" style="font-family:'Noto Sans CJK SC','Liberation Sans',sans-serif">.</tspan> <tspan x="205.8" dy="1.58">2</tspan></text>
<text x="119.9" y="1081.0" font-size="73.0" transform="matrix(1 0 0 1.0400 0 -43.24)">0<tspan x="164.9" dy="-1.58" font-size="62.0" style="font-family:'Noto Sans CJK SC','Liberation Sans',sans-serif">.</tspan> <tspan x="211.3" dy="1.58">1</tspan></text>
<text x="164.6" y="70.0" font-size="73.0" transform="matrix(1 0 0 1.0400 0 -2.80)">1</text>
<text x="163.4" y="1197.1" font-size="73.0" transform="matrix(1 0 0 1.0400 0 -47.88)">0</text>
<text x="236.3 278.0 301.9" y="1241.9" font-size="73.0" transform="matrix(1 0 0 1.0400 0 -49.68)">1.5</text>
<text x="596.3 637.8 661.2 705.2" y="1244.9" font-size="73.0" transform="matrix(1 0 0 1.0400 0 -49.80)">1.55</text>
<text x="991.3 1032.9 1055.3" y="1244.9" font-size="73.0" transform="matrix(1 0 0 1.0400 0 -49.80)">1.6</text>
<text x="1359.3 1400.0 1423.2 1468.0" y="1241.9" font-size="73.0" transform="matrix(1 0 0 1.0400 0 -49.68)">1.65</text>
<text x="1756.2 1797.9 1821.1" y="1235.7" font-size="73.0" transform="matrix(1 0 0 1.0400 0 -49.43)">1.7</text>
<text x="777.9 845.9 890.8 929.7 973.9 993.7 1038.4 1081.9 1126.9 1151.1 1194.5 1219.1 1259.7 1326.5" y="1321.1" font-size="73.0" transform="matrix(1 0 0 1.0200 0 -26.42)">Wavelength(μm)</text>
<text transform="translate(76.1 0) rotate(-90) scale(1.060 1.000)" x="-793.4 -741.9 -693.9 -659.1 -611.5 -582.2 -534.2 -505.2 -483.8 -435.9" y="0" font-size="75.0">Absorption</text>
<text x="1365.8 1440.9 1483.1 1508.9" y="169.2" font-size="74.0" transform="matrix(1 0 0 1.0400 0 -6.77)">Wc/P</text>
<text x="1384.9 1431.0 1477.2" y="378.6" font-size="73.0" transform="matrix(1 0 0 1.0400 0 -15.14)">50%</text>
<text x="1220.3 1266.1 1311.9" y="543.0" font-size="73.0" transform="matrix(1 0 0 1.0400 0 -21.72)">30%</text>
<text x="1069.9 1116.3 1162.7" y="683.6" font-size="73.0" transform="matrix(1 0 0 1.0400 0 -27.34)">20%</text>
<text x="861.4 905.0 951.2" y="863.0" font-size="73.0" transform="matrix(1 0 0 1.0400 0 -34.52)">10%</text>
<text x="679.2 725.9" y="1022.0" font-size="73.0" transform="matrix(1 0 0 1.0400 0 -40.88)">0%</text>
</g>
<g fill="#fff">
<rect x="215.1" y="1073.9" width="14.0" height="9.7"/>
<rect x="236.7" y="1073.9" width="13.4" height="9.7"/>
<rect x="168.4" y="62.9" width="14.0" height="9.7"/>
<rect x="190.0" y="62.9" width="13.4" height="9.7"/>
<rect x="240.1" y="1234.8" width="14.0" height="9.7"/>
<rect x="261.7" y="1234.8" width="13.4" height="9.7"/>
<rect x="600.1" y="1237.8" width="14.0" height="9.7"/>
<rect x="621.7" y="1237.8" width="13.4" height="9.7"/>
<rect x="995.1" y="1237.8" width="14.0" height="9.7"/>
<rect x="1016.7" y="1237.8" width="13.4" height="9.7"/>
<rect x="1363.1" y="1234.8" width="14.0" height="9.7"/>
<rect x="1384.7" y="1234.8" width="13.4" height="9.7"/>
<rect x="1760.0" y="1228.6" width="14.0" height="9.7"/>
<rect x="1781.6" y="1228.6" width="13.4" height="9.7"/>
<rect x="865.1" y="855.9" width="14.0" height="9.7"/>
<rect x="886.8" y="855.9" width="13.4" height="9.7"/>
</g>
</svg>
</body></html>
